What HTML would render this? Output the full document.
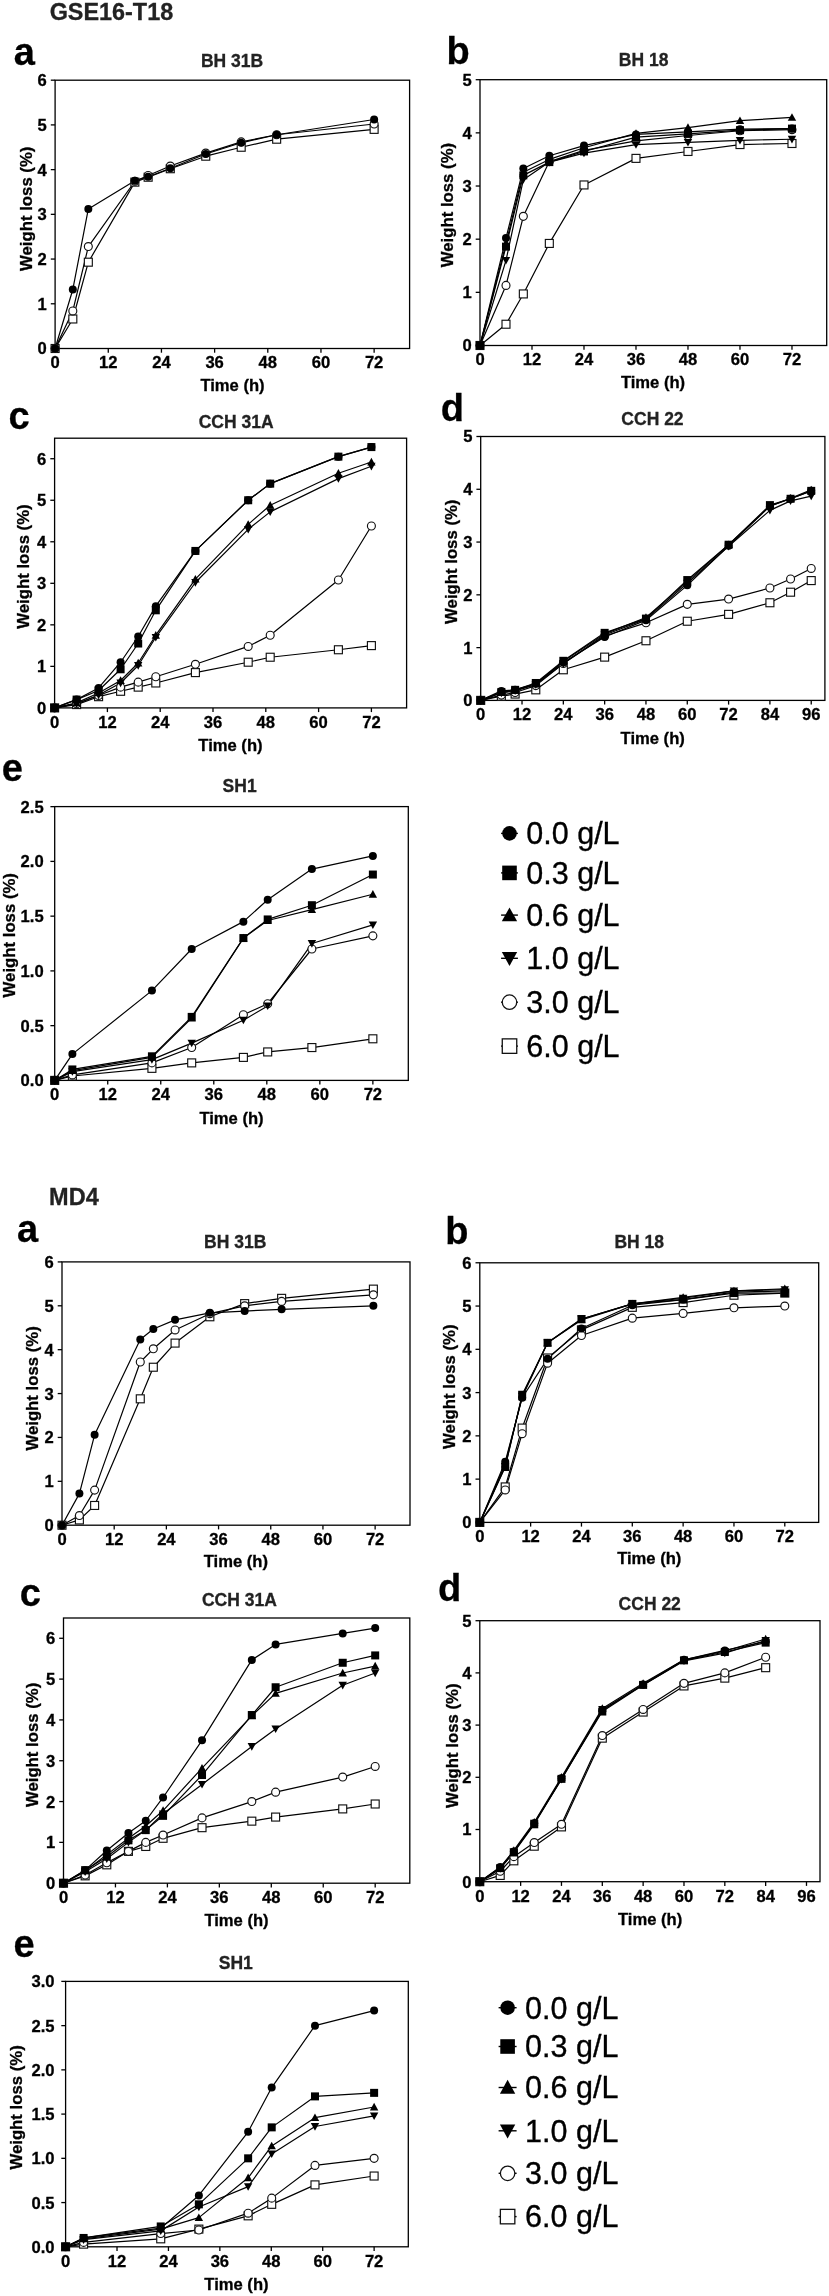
<!DOCTYPE html>
<html><head><meta charset="utf-8"><title>Figure</title>
<style>
html,body{margin:0;padding:0;background:#fff;}
body{width:829px;height:2296px;overflow:hidden;}
svg{display:block;font-family:"Liberation Sans", sans-serif;filter:blur(0.4px);}
text[font-weight=bold]{stroke:#000;stroke-width:0.3px;paint-order:stroke;}
</style></head>
<body>
<svg width="829" height="2296" viewBox="0 0 829 2296">
<rect width="829" height="2296" fill="#fff"/>
<text x="49.65" y="19.56" font-size="23.4" font-weight="bold" fill="#222" style="stroke:#222">GSE16-T18</text>
<text x="49.12" y="1205.13" font-size="23.5" font-weight="bold" fill="#222" style="stroke:#222">MD4</text>
<text x="13.71" y="65.09" font-size="38" font-weight="bold" fill="#000">a</text>
<text x="200.94" y="66.76" font-size="17.5" font-weight="bold" fill="#222" style="stroke:#222">BH 31B</text>
<rect x="55.1" y="80.2" width="354.5" height="268.3" fill="none" stroke="#000" stroke-width="1.3"/>
<line x1="50.80" y1="348.50" x2="55.10" y2="348.50" stroke="#000" stroke-width="1.3"/>
<text x="46.80" y="354.45" font-size="16.6" font-weight="bold" text-anchor="end">0</text>
<line x1="50.80" y1="303.78" x2="55.10" y2="303.78" stroke="#000" stroke-width="1.3"/>
<text x="46.80" y="309.73" font-size="16.6" font-weight="bold" text-anchor="end">1</text>
<line x1="50.80" y1="259.06" x2="55.10" y2="259.06" stroke="#000" stroke-width="1.3"/>
<text x="46.80" y="265.01" font-size="16.6" font-weight="bold" text-anchor="end">2</text>
<line x1="50.80" y1="214.34" x2="55.10" y2="214.34" stroke="#000" stroke-width="1.3"/>
<text x="46.80" y="220.29" font-size="16.6" font-weight="bold" text-anchor="end">3</text>
<line x1="50.80" y1="169.62" x2="55.10" y2="169.62" stroke="#000" stroke-width="1.3"/>
<text x="46.80" y="175.57" font-size="16.6" font-weight="bold" text-anchor="end">4</text>
<line x1="50.80" y1="124.90" x2="55.10" y2="124.90" stroke="#000" stroke-width="1.3"/>
<text x="46.80" y="130.85" font-size="16.6" font-weight="bold" text-anchor="end">5</text>
<line x1="50.80" y1="80.18" x2="55.10" y2="80.18" stroke="#000" stroke-width="1.3"/>
<text x="46.80" y="86.13" font-size="16.6" font-weight="bold" text-anchor="end">6</text>
<line x1="55.10" y1="348.50" x2="55.10" y2="352.70" stroke="#000" stroke-width="1.3"/>
<text x="55.10" y="368.40" font-size="16.6" font-weight="bold" text-anchor="middle">0</text>
<line x1="108.27" y1="348.50" x2="108.27" y2="352.70" stroke="#000" stroke-width="1.3"/>
<text x="108.27" y="368.40" font-size="16.6" font-weight="bold" text-anchor="middle">12</text>
<line x1="161.44" y1="348.50" x2="161.44" y2="352.70" stroke="#000" stroke-width="1.3"/>
<text x="161.44" y="368.40" font-size="16.6" font-weight="bold" text-anchor="middle">24</text>
<line x1="214.62" y1="348.50" x2="214.62" y2="352.70" stroke="#000" stroke-width="1.3"/>
<text x="214.62" y="368.40" font-size="16.6" font-weight="bold" text-anchor="middle">36</text>
<line x1="267.79" y1="348.50" x2="267.79" y2="352.70" stroke="#000" stroke-width="1.3"/>
<text x="267.79" y="368.40" font-size="16.6" font-weight="bold" text-anchor="middle">48</text>
<line x1="320.96" y1="348.50" x2="320.96" y2="352.70" stroke="#000" stroke-width="1.3"/>
<text x="320.96" y="368.40" font-size="16.6" font-weight="bold" text-anchor="middle">60</text>
<line x1="374.13" y1="348.50" x2="374.13" y2="352.70" stroke="#000" stroke-width="1.3"/>
<text x="374.13" y="368.40" font-size="16.6" font-weight="bold" text-anchor="middle">72</text>
<text x="232.5" y="391.3" font-size="16.6" font-weight="bold" text-anchor="middle">Time (h)</text>
<text transform="translate(31.7,208.8) rotate(-90)" x="0" y="0" font-size="16.75" font-weight="bold" text-anchor="middle">Weight loss (%)</text>
<path d="M55.10,348.50 L72.82,289.47 L88.33,208.97 L134.86,180.80 L148.15,176.78 L170.31,168.28 L205.75,153.97 L241.20,142.79 L276.65,134.74 L374.13,119.53" fill="none" stroke="#000" stroke-width="1.2" stroke-linejoin="round"/>
<path d="M55.10,348.50 L72.82,310.94 L88.33,246.54 L134.86,181.25 L148.15,175.43 L170.31,166.04 L205.75,153.07 L241.20,141.89 L276.65,134.74 L374.13,124.01" fill="none" stroke="#000" stroke-width="1.2" stroke-linejoin="round"/>
<path d="M55.10,348.50 L72.82,318.98 L88.33,262.19 L134.86,182.14 L148.15,177.22 L170.31,168.73 L205.75,156.20 L241.20,147.26 L276.65,139.21 L374.13,129.37" fill="none" stroke="#000" stroke-width="1.2" stroke-linejoin="round"/>
<rect x="51.12" y="344.51" width="7.97" height="7.97" fill="#fff" stroke="#111" stroke-width="1.15"/>
<rect x="68.84" y="315.00" width="7.97" height="7.97" fill="#fff" stroke="#111" stroke-width="1.15"/>
<rect x="84.35" y="258.21" width="7.97" height="7.97" fill="#fff" stroke="#111" stroke-width="1.15"/>
<rect x="130.87" y="178.16" width="7.97" height="7.97" fill="#fff" stroke="#111" stroke-width="1.15"/>
<rect x="144.17" y="173.24" width="7.97" height="7.97" fill="#fff" stroke="#111" stroke-width="1.15"/>
<rect x="166.32" y="164.74" width="7.97" height="7.97" fill="#fff" stroke="#111" stroke-width="1.15"/>
<rect x="201.77" y="152.22" width="7.97" height="7.97" fill="#fff" stroke="#111" stroke-width="1.15"/>
<rect x="237.22" y="143.27" width="7.97" height="7.97" fill="#fff" stroke="#111" stroke-width="1.15"/>
<rect x="272.67" y="135.23" width="7.97" height="7.97" fill="#fff" stroke="#111" stroke-width="1.15"/>
<rect x="370.15" y="125.39" width="7.97" height="7.97" fill="#fff" stroke="#111" stroke-width="1.15"/>
<circle cx="55.10" cy="348.50" r="3.98" fill="#fff" stroke="#111" stroke-width="1.15"/>
<circle cx="72.82" cy="310.94" r="3.98" fill="#fff" stroke="#111" stroke-width="1.15"/>
<circle cx="88.33" cy="246.54" r="3.98" fill="#fff" stroke="#111" stroke-width="1.15"/>
<circle cx="134.86" cy="181.25" r="3.98" fill="#fff" stroke="#111" stroke-width="1.15"/>
<circle cx="148.15" cy="175.43" r="3.98" fill="#fff" stroke="#111" stroke-width="1.15"/>
<circle cx="170.31" cy="166.04" r="3.98" fill="#fff" stroke="#111" stroke-width="1.15"/>
<circle cx="205.75" cy="153.07" r="3.98" fill="#fff" stroke="#111" stroke-width="1.15"/>
<circle cx="241.20" cy="141.89" r="3.98" fill="#fff" stroke="#111" stroke-width="1.15"/>
<circle cx="276.65" cy="134.74" r="3.98" fill="#fff" stroke="#111" stroke-width="1.15"/>
<circle cx="374.13" cy="124.01" r="3.98" fill="#fff" stroke="#111" stroke-width="1.15"/>
<circle cx="55.10" cy="348.50" r="4.00" fill="#000"/>
<circle cx="72.82" cy="289.47" r="4.00" fill="#000"/>
<circle cx="88.33" cy="208.97" r="4.00" fill="#000"/>
<circle cx="134.86" cy="180.80" r="4.00" fill="#000"/>
<circle cx="148.15" cy="176.78" r="4.00" fill="#000"/>
<circle cx="170.31" cy="168.28" r="4.00" fill="#000"/>
<circle cx="205.75" cy="153.97" r="4.00" fill="#000"/>
<circle cx="241.20" cy="142.79" r="4.00" fill="#000"/>
<circle cx="276.65" cy="134.74" r="4.00" fill="#000"/>
<circle cx="374.13" cy="119.53" r="4.00" fill="#000"/>
<text x="446.52" y="63.78" font-size="38" font-weight="bold" fill="#000">b</text>
<text x="618.78" y="66.42" font-size="17.5" font-weight="bold" fill="#222" style="stroke:#222">BH 18</text>
<rect x="480" y="79.7" width="346.70000000000005" height="265.8" fill="none" stroke="#000" stroke-width="1.3"/>
<line x1="475.70" y1="345.50" x2="480.00" y2="345.50" stroke="#000" stroke-width="1.3"/>
<text x="471.70" y="351.45" font-size="16.6" font-weight="bold" text-anchor="end">0</text>
<line x1="475.70" y1="292.34" x2="480.00" y2="292.34" stroke="#000" stroke-width="1.3"/>
<text x="471.70" y="298.29" font-size="16.6" font-weight="bold" text-anchor="end">1</text>
<line x1="475.70" y1="239.18" x2="480.00" y2="239.18" stroke="#000" stroke-width="1.3"/>
<text x="471.70" y="245.13" font-size="16.6" font-weight="bold" text-anchor="end">2</text>
<line x1="475.70" y1="186.02" x2="480.00" y2="186.02" stroke="#000" stroke-width="1.3"/>
<text x="471.70" y="191.97" font-size="16.6" font-weight="bold" text-anchor="end">3</text>
<line x1="475.70" y1="132.86" x2="480.00" y2="132.86" stroke="#000" stroke-width="1.3"/>
<text x="471.70" y="138.81" font-size="16.6" font-weight="bold" text-anchor="end">4</text>
<line x1="475.70" y1="79.70" x2="480.00" y2="79.70" stroke="#000" stroke-width="1.3"/>
<text x="471.70" y="85.65" font-size="16.6" font-weight="bold" text-anchor="end">5</text>
<line x1="480.00" y1="345.50" x2="480.00" y2="349.70" stroke="#000" stroke-width="1.3"/>
<text x="480.00" y="365.40" font-size="16.6" font-weight="bold" text-anchor="middle">0</text>
<line x1="532.00" y1="345.50" x2="532.00" y2="349.70" stroke="#000" stroke-width="1.3"/>
<text x="532.00" y="365.40" font-size="16.6" font-weight="bold" text-anchor="middle">12</text>
<line x1="583.99" y1="345.50" x2="583.99" y2="349.70" stroke="#000" stroke-width="1.3"/>
<text x="583.99" y="365.40" font-size="16.6" font-weight="bold" text-anchor="middle">24</text>
<line x1="635.99" y1="345.50" x2="635.99" y2="349.70" stroke="#000" stroke-width="1.3"/>
<text x="635.99" y="365.40" font-size="16.6" font-weight="bold" text-anchor="middle">36</text>
<line x1="687.98" y1="345.50" x2="687.98" y2="349.70" stroke="#000" stroke-width="1.3"/>
<text x="687.98" y="365.40" font-size="16.6" font-weight="bold" text-anchor="middle">48</text>
<line x1="739.98" y1="345.50" x2="739.98" y2="349.70" stroke="#000" stroke-width="1.3"/>
<text x="739.98" y="365.40" font-size="16.6" font-weight="bold" text-anchor="middle">60</text>
<line x1="791.98" y1="345.50" x2="791.98" y2="349.70" stroke="#000" stroke-width="1.3"/>
<text x="791.98" y="365.40" font-size="16.6" font-weight="bold" text-anchor="middle">72</text>
<text x="653" y="387.9" font-size="16.6" font-weight="bold" text-anchor="middle">Time (h)</text>
<text transform="translate(453,205.1) rotate(-90)" x="0" y="0" font-size="16.75" font-weight="bold" text-anchor="middle">Weight loss (%)</text>
<path d="M480.00,345.50 L506.00,238.12 L523.33,168.48 L549.33,155.72 L583.99,145.62 L635.99,134.45 L687.98,131.80 L739.98,129.14 L791.98,128.61" fill="none" stroke="#000" stroke-width="1.2" stroke-linejoin="round"/>
<path d="M480.00,345.50 L506.00,246.62 L523.33,175.39 L549.33,162.10 L583.99,151.47 L635.99,137.11 L687.98,133.92 L739.98,130.20 L791.98,128.61" fill="none" stroke="#000" stroke-width="1.2" stroke-linejoin="round"/>
<path d="M480.00,345.50 L506.00,243.43 L523.33,172.20 L549.33,159.44 L583.99,147.74 L635.99,133.39 L687.98,127.54 L739.98,120.63 L791.98,117.44" fill="none" stroke="#000" stroke-width="1.2" stroke-linejoin="round"/>
<path d="M480.00,345.50 L506.00,260.44 L523.33,179.64 L549.33,162.10 L583.99,153.06 L635.99,144.56 L687.98,142.43 L739.98,140.30 L791.98,139.24" fill="none" stroke="#000" stroke-width="1.2" stroke-linejoin="round"/>
<path d="M480.00,345.50 L506.00,285.43 L523.33,216.32 L549.33,161.57 L583.99,150.40 L635.99,140.83 L687.98,135.52 L739.98,130.73 L791.98,129.67" fill="none" stroke="#000" stroke-width="1.2" stroke-linejoin="round"/>
<path d="M480.00,345.50 L506.00,324.24 L523.33,293.93 L549.33,243.43 L583.99,184.96 L635.99,158.38 L687.98,151.47 L739.98,144.56 L791.98,143.49" fill="none" stroke="#000" stroke-width="1.2" stroke-linejoin="round"/>
<rect x="476.01" y="341.51" width="7.97" height="7.97" fill="#fff" stroke="#111" stroke-width="1.15"/>
<rect x="502.01" y="320.25" width="7.97" height="7.97" fill="#fff" stroke="#111" stroke-width="1.15"/>
<rect x="519.35" y="289.95" width="7.97" height="7.97" fill="#fff" stroke="#111" stroke-width="1.15"/>
<rect x="545.34" y="239.45" width="7.97" height="7.97" fill="#fff" stroke="#111" stroke-width="1.15"/>
<rect x="580.01" y="180.97" width="7.97" height="7.97" fill="#fff" stroke="#111" stroke-width="1.15"/>
<rect x="632.00" y="154.39" width="7.97" height="7.97" fill="#fff" stroke="#111" stroke-width="1.15"/>
<rect x="684.00" y="147.48" width="7.97" height="7.97" fill="#fff" stroke="#111" stroke-width="1.15"/>
<rect x="736.00" y="140.57" width="7.97" height="7.97" fill="#fff" stroke="#111" stroke-width="1.15"/>
<rect x="787.99" y="139.51" width="7.97" height="7.97" fill="#fff" stroke="#111" stroke-width="1.15"/>
<circle cx="480.00" cy="345.50" r="3.98" fill="#fff" stroke="#111" stroke-width="1.15"/>
<circle cx="506.00" cy="285.43" r="3.98" fill="#fff" stroke="#111" stroke-width="1.15"/>
<circle cx="523.33" cy="216.32" r="3.98" fill="#fff" stroke="#111" stroke-width="1.15"/>
<circle cx="549.33" cy="161.57" r="3.98" fill="#fff" stroke="#111" stroke-width="1.15"/>
<circle cx="583.99" cy="150.40" r="3.98" fill="#fff" stroke="#111" stroke-width="1.15"/>
<circle cx="635.99" cy="140.83" r="3.98" fill="#fff" stroke="#111" stroke-width="1.15"/>
<circle cx="687.98" cy="135.52" r="3.98" fill="#fff" stroke="#111" stroke-width="1.15"/>
<circle cx="739.98" cy="130.73" r="3.98" fill="#fff" stroke="#111" stroke-width="1.15"/>
<circle cx="791.98" cy="129.67" r="3.98" fill="#fff" stroke="#111" stroke-width="1.15"/>
<path d="M480.00,349.68 L484.20,342.08 L475.80,342.08 Z" fill="#000"/>
<path d="M506.00,264.62 L510.20,257.02 L501.80,257.02 Z" fill="#000"/>
<path d="M523.33,183.82 L527.53,176.22 L519.13,176.22 Z" fill="#000"/>
<path d="M549.33,166.28 L553.53,158.68 L545.13,158.68 Z" fill="#000"/>
<path d="M583.99,157.24 L588.19,149.64 L579.79,149.64 Z" fill="#000"/>
<path d="M635.99,148.74 L640.19,141.14 L631.79,141.14 Z" fill="#000"/>
<path d="M687.98,146.61 L692.18,139.01 L683.78,139.01 Z" fill="#000"/>
<path d="M739.98,144.48 L744.18,136.88 L735.78,136.88 Z" fill="#000"/>
<path d="M791.98,143.42 L796.18,135.82 L787.78,135.82 Z" fill="#000"/>
<path d="M480.00,341.32 L484.20,348.92 L475.80,348.92 Z" fill="#000"/>
<path d="M506.00,239.25 L510.20,246.85 L501.80,246.85 Z" fill="#000"/>
<path d="M523.33,168.02 L527.53,175.62 L519.13,175.62 Z" fill="#000"/>
<path d="M549.33,155.26 L553.53,162.86 L545.13,162.86 Z" fill="#000"/>
<path d="M583.99,143.56 L588.19,151.16 L579.79,151.16 Z" fill="#000"/>
<path d="M635.99,129.21 L640.19,136.81 L631.79,136.81 Z" fill="#000"/>
<path d="M687.98,123.36 L692.18,130.96 L683.78,130.96 Z" fill="#000"/>
<path d="M739.98,116.45 L744.18,124.05 L735.78,124.05 Z" fill="#000"/>
<path d="M791.98,113.26 L796.18,120.86 L787.78,120.86 Z" fill="#000"/>
<rect x="476.00" y="341.50" width="8.00" height="8.00" fill="#000"/>
<rect x="502.00" y="242.62" width="8.00" height="8.00" fill="#000"/>
<rect x="519.33" y="171.39" width="8.00" height="8.00" fill="#000"/>
<rect x="545.33" y="158.10" width="8.00" height="8.00" fill="#000"/>
<rect x="579.99" y="147.47" width="8.00" height="8.00" fill="#000"/>
<rect x="631.99" y="133.11" width="8.00" height="8.00" fill="#000"/>
<rect x="683.98" y="129.92" width="8.00" height="8.00" fill="#000"/>
<rect x="735.98" y="126.20" width="8.00" height="8.00" fill="#000"/>
<rect x="787.98" y="124.61" width="8.00" height="8.00" fill="#000"/>
<circle cx="480.00" cy="345.50" r="4.00" fill="#000"/>
<circle cx="506.00" cy="238.12" r="4.00" fill="#000"/>
<circle cx="523.33" cy="168.48" r="4.00" fill="#000"/>
<circle cx="549.33" cy="155.72" r="4.00" fill="#000"/>
<circle cx="583.99" cy="145.62" r="4.00" fill="#000"/>
<circle cx="635.99" cy="134.45" r="4.00" fill="#000"/>
<circle cx="687.98" cy="131.80" r="4.00" fill="#000"/>
<circle cx="739.98" cy="129.14" r="4.00" fill="#000"/>
<circle cx="791.98" cy="128.61" r="4.00" fill="#000"/>
<text x="8.60" y="428.89" font-size="38" font-weight="bold" fill="#000">c</text>
<text x="198.73" y="427.56" font-size="17.5" font-weight="bold" fill="#222" style="stroke:#222">CCH 31A</text>
<rect x="54.6" y="438.2" width="352.0" height="269.7" fill="none" stroke="#000" stroke-width="1.3"/>
<line x1="50.30" y1="707.90" x2="54.60" y2="707.90" stroke="#000" stroke-width="1.3"/>
<text x="46.30" y="713.85" font-size="16.6" font-weight="bold" text-anchor="end">0</text>
<line x1="50.30" y1="666.37" x2="54.60" y2="666.37" stroke="#000" stroke-width="1.3"/>
<text x="46.30" y="672.32" font-size="16.6" font-weight="bold" text-anchor="end">1</text>
<line x1="50.30" y1="624.84" x2="54.60" y2="624.84" stroke="#000" stroke-width="1.3"/>
<text x="46.30" y="630.79" font-size="16.6" font-weight="bold" text-anchor="end">2</text>
<line x1="50.30" y1="583.31" x2="54.60" y2="583.31" stroke="#000" stroke-width="1.3"/>
<text x="46.30" y="589.26" font-size="16.6" font-weight="bold" text-anchor="end">3</text>
<line x1="50.30" y1="541.78" x2="54.60" y2="541.78" stroke="#000" stroke-width="1.3"/>
<text x="46.30" y="547.73" font-size="16.6" font-weight="bold" text-anchor="end">4</text>
<line x1="50.30" y1="500.25" x2="54.60" y2="500.25" stroke="#000" stroke-width="1.3"/>
<text x="46.30" y="506.20" font-size="16.6" font-weight="bold" text-anchor="end">5</text>
<line x1="50.30" y1="458.72" x2="54.60" y2="458.72" stroke="#000" stroke-width="1.3"/>
<text x="46.30" y="464.67" font-size="16.6" font-weight="bold" text-anchor="end">6</text>
<line x1="54.60" y1="707.90" x2="54.60" y2="712.10" stroke="#000" stroke-width="1.3"/>
<text x="54.60" y="727.80" font-size="16.6" font-weight="bold" text-anchor="middle">0</text>
<line x1="107.40" y1="707.90" x2="107.40" y2="712.10" stroke="#000" stroke-width="1.3"/>
<text x="107.40" y="727.80" font-size="16.6" font-weight="bold" text-anchor="middle">12</text>
<line x1="160.20" y1="707.90" x2="160.20" y2="712.10" stroke="#000" stroke-width="1.3"/>
<text x="160.20" y="727.80" font-size="16.6" font-weight="bold" text-anchor="middle">24</text>
<line x1="213.00" y1="707.90" x2="213.00" y2="712.10" stroke="#000" stroke-width="1.3"/>
<text x="213.00" y="727.80" font-size="16.6" font-weight="bold" text-anchor="middle">36</text>
<line x1="265.80" y1="707.90" x2="265.80" y2="712.10" stroke="#000" stroke-width="1.3"/>
<text x="265.80" y="727.80" font-size="16.6" font-weight="bold" text-anchor="middle">48</text>
<line x1="318.60" y1="707.90" x2="318.60" y2="712.10" stroke="#000" stroke-width="1.3"/>
<text x="318.60" y="727.80" font-size="16.6" font-weight="bold" text-anchor="middle">60</text>
<line x1="371.40" y1="707.90" x2="371.40" y2="712.10" stroke="#000" stroke-width="1.3"/>
<text x="371.40" y="727.80" font-size="16.6" font-weight="bold" text-anchor="middle">72</text>
<text x="230.45" y="751.1" font-size="16.6" font-weight="bold" text-anchor="middle">Time (h)</text>
<text transform="translate(28.7,566.55) rotate(-90)" x="0" y="0" font-size="16.75" font-weight="bold" text-anchor="middle">Weight loss (%)</text>
<path d="M54.60,707.90 L76.60,699.59 L98.60,687.97 L120.60,662.22 L138.20,636.47 L155.80,606.15 L195.40,550.92 L248.20,500.25 L270.20,483.64 L338.40,456.64 L371.40,447.09" fill="none" stroke="#000" stroke-width="1.2" stroke-linejoin="round"/>
<path d="M54.60,707.90 L76.60,699.59 L98.60,690.46 L120.60,669.28 L138.20,643.53 L155.80,610.30 L195.40,550.92 L248.20,500.25 L270.20,483.64 L338.40,456.64 L371.40,447.09" fill="none" stroke="#000" stroke-width="1.2" stroke-linejoin="round"/>
<path d="M54.60,707.90 L76.60,702.92 L98.60,692.95 L120.60,680.49 L138.20,663.05 L155.80,635.22 L195.40,579.16 L248.20,524.34 L270.20,505.23 L338.40,473.26 L371.40,462.04" fill="none" stroke="#000" stroke-width="1.2" stroke-linejoin="round"/>
<path d="M54.60,707.90 L76.60,703.75 L98.60,695.03 L120.60,682.98 L138.20,665.54 L155.80,637.30 L195.40,582.48 L248.20,529.32 L270.20,511.88 L338.40,478.65 L371.40,466.20" fill="none" stroke="#000" stroke-width="1.2" stroke-linejoin="round"/>
<path d="M54.60,707.90 L76.60,703.75 L98.60,695.44 L120.60,687.13 L138.20,682.15 L155.80,676.75 L195.40,664.29 L248.20,646.44 L270.20,635.22 L338.40,579.99 L371.40,526.00" fill="none" stroke="#000" stroke-width="1.2" stroke-linejoin="round"/>
<path d="M54.60,707.90 L76.60,704.58 L98.60,696.69 L120.60,691.29 L138.20,687.13 L155.80,682.98 L195.40,672.60 L248.20,662.22 L270.20,657.23 L338.40,649.76 L371.40,645.61" fill="none" stroke="#000" stroke-width="1.2" stroke-linejoin="round"/>
<rect x="50.62" y="703.91" width="7.97" height="7.97" fill="#fff" stroke="#111" stroke-width="1.15"/>
<rect x="72.61" y="700.59" width="7.97" height="7.97" fill="#fff" stroke="#111" stroke-width="1.15"/>
<rect x="94.61" y="692.70" width="7.97" height="7.97" fill="#fff" stroke="#111" stroke-width="1.15"/>
<rect x="116.61" y="687.30" width="7.97" height="7.97" fill="#fff" stroke="#111" stroke-width="1.15"/>
<rect x="134.22" y="683.15" width="7.97" height="7.97" fill="#fff" stroke="#111" stroke-width="1.15"/>
<rect x="151.81" y="679.00" width="7.97" height="7.97" fill="#fff" stroke="#111" stroke-width="1.15"/>
<rect x="191.42" y="668.61" width="7.97" height="7.97" fill="#fff" stroke="#111" stroke-width="1.15"/>
<rect x="244.22" y="658.23" width="7.97" height="7.97" fill="#fff" stroke="#111" stroke-width="1.15"/>
<rect x="266.22" y="653.25" width="7.97" height="7.97" fill="#fff" stroke="#111" stroke-width="1.15"/>
<rect x="334.42" y="645.77" width="7.97" height="7.97" fill="#fff" stroke="#111" stroke-width="1.15"/>
<rect x="367.42" y="641.62" width="7.97" height="7.97" fill="#fff" stroke="#111" stroke-width="1.15"/>
<circle cx="54.60" cy="707.90" r="3.98" fill="#fff" stroke="#111" stroke-width="1.15"/>
<circle cx="76.60" cy="703.75" r="3.98" fill="#fff" stroke="#111" stroke-width="1.15"/>
<circle cx="98.60" cy="695.44" r="3.98" fill="#fff" stroke="#111" stroke-width="1.15"/>
<circle cx="120.60" cy="687.13" r="3.98" fill="#fff" stroke="#111" stroke-width="1.15"/>
<circle cx="138.20" cy="682.15" r="3.98" fill="#fff" stroke="#111" stroke-width="1.15"/>
<circle cx="155.80" cy="676.75" r="3.98" fill="#fff" stroke="#111" stroke-width="1.15"/>
<circle cx="195.40" cy="664.29" r="3.98" fill="#fff" stroke="#111" stroke-width="1.15"/>
<circle cx="248.20" cy="646.44" r="3.98" fill="#fff" stroke="#111" stroke-width="1.15"/>
<circle cx="270.20" cy="635.22" r="3.98" fill="#fff" stroke="#111" stroke-width="1.15"/>
<circle cx="338.40" cy="579.99" r="3.98" fill="#fff" stroke="#111" stroke-width="1.15"/>
<circle cx="371.40" cy="526.00" r="3.98" fill="#fff" stroke="#111" stroke-width="1.15"/>
<path d="M54.60,712.08 L58.80,704.48 L50.40,704.48 Z" fill="#000"/>
<path d="M76.60,707.93 L80.80,700.33 L72.40,700.33 Z" fill="#000"/>
<path d="M98.60,699.21 L102.80,691.61 L94.40,691.61 Z" fill="#000"/>
<path d="M120.60,687.16 L124.80,679.56 L116.40,679.56 Z" fill="#000"/>
<path d="M138.20,669.72 L142.40,662.12 L134.00,662.12 Z" fill="#000"/>
<path d="M155.80,641.48 L160.00,633.88 L151.60,633.88 Z" fill="#000"/>
<path d="M195.40,586.66 L199.60,579.06 L191.20,579.06 Z" fill="#000"/>
<path d="M248.20,533.50 L252.40,525.90 L244.00,525.90 Z" fill="#000"/>
<path d="M270.20,516.06 L274.40,508.46 L266.00,508.46 Z" fill="#000"/>
<path d="M338.40,482.83 L342.60,475.23 L334.20,475.23 Z" fill="#000"/>
<path d="M371.40,470.38 L375.60,462.78 L367.20,462.78 Z" fill="#000"/>
<path d="M54.60,703.72 L58.80,711.32 L50.40,711.32 Z" fill="#000"/>
<path d="M76.60,698.74 L80.80,706.34 L72.40,706.34 Z" fill="#000"/>
<path d="M98.60,688.77 L102.80,696.37 L94.40,696.37 Z" fill="#000"/>
<path d="M120.60,676.31 L124.80,683.91 L116.40,683.91 Z" fill="#000"/>
<path d="M138.20,658.87 L142.40,666.47 L134.00,666.47 Z" fill="#000"/>
<path d="M155.80,631.04 L160.00,638.64 L151.60,638.64 Z" fill="#000"/>
<path d="M195.40,574.98 L199.60,582.58 L191.20,582.58 Z" fill="#000"/>
<path d="M248.20,520.16 L252.40,527.76 L244.00,527.76 Z" fill="#000"/>
<path d="M270.20,501.05 L274.40,508.65 L266.00,508.65 Z" fill="#000"/>
<path d="M338.40,469.08 L342.60,476.68 L334.20,476.68 Z" fill="#000"/>
<path d="M371.40,457.86 L375.60,465.46 L367.20,465.46 Z" fill="#000"/>
<rect x="50.60" y="703.90" width="8.00" height="8.00" fill="#000"/>
<rect x="72.60" y="695.59" width="8.00" height="8.00" fill="#000"/>
<rect x="94.60" y="686.46" width="8.00" height="8.00" fill="#000"/>
<rect x="116.60" y="665.28" width="8.00" height="8.00" fill="#000"/>
<rect x="134.20" y="639.53" width="8.00" height="8.00" fill="#000"/>
<rect x="151.80" y="606.30" width="8.00" height="8.00" fill="#000"/>
<rect x="191.40" y="546.92" width="8.00" height="8.00" fill="#000"/>
<rect x="244.20" y="496.25" width="8.00" height="8.00" fill="#000"/>
<rect x="266.20" y="479.64" width="8.00" height="8.00" fill="#000"/>
<rect x="334.40" y="452.64" width="8.00" height="8.00" fill="#000"/>
<rect x="367.40" y="443.09" width="8.00" height="8.00" fill="#000"/>
<circle cx="54.60" cy="707.90" r="4.00" fill="#000"/>
<circle cx="76.60" cy="699.59" r="4.00" fill="#000"/>
<circle cx="98.60" cy="687.97" r="4.00" fill="#000"/>
<circle cx="120.60" cy="662.22" r="4.00" fill="#000"/>
<circle cx="138.20" cy="636.47" r="4.00" fill="#000"/>
<circle cx="155.80" cy="606.15" r="4.00" fill="#000"/>
<circle cx="195.40" cy="550.92" r="4.00" fill="#000"/>
<circle cx="248.20" cy="500.25" r="4.00" fill="#000"/>
<circle cx="270.20" cy="483.64" r="4.00" fill="#000"/>
<circle cx="338.40" cy="456.64" r="4.00" fill="#000"/>
<circle cx="371.40" cy="447.09" r="4.00" fill="#000"/>
<text x="440.82" y="420.98" font-size="38" font-weight="bold" fill="#000">d</text>
<text x="621.37" y="425.22" font-size="17.5" font-weight="bold" fill="#222" style="stroke:#222">CCH 22</text>
<rect x="480.7" y="436.5" width="344.2" height="263.9" fill="none" stroke="#000" stroke-width="1.3"/>
<line x1="476.40" y1="700.40" x2="480.70" y2="700.40" stroke="#000" stroke-width="1.3"/>
<text x="472.40" y="706.35" font-size="16.6" font-weight="bold" text-anchor="end">0</text>
<line x1="476.40" y1="647.62" x2="480.70" y2="647.62" stroke="#000" stroke-width="1.3"/>
<text x="472.40" y="653.57" font-size="16.6" font-weight="bold" text-anchor="end">1</text>
<line x1="476.40" y1="594.84" x2="480.70" y2="594.84" stroke="#000" stroke-width="1.3"/>
<text x="472.40" y="600.79" font-size="16.6" font-weight="bold" text-anchor="end">2</text>
<line x1="476.40" y1="542.06" x2="480.70" y2="542.06" stroke="#000" stroke-width="1.3"/>
<text x="472.40" y="548.01" font-size="16.6" font-weight="bold" text-anchor="end">3</text>
<line x1="476.40" y1="489.28" x2="480.70" y2="489.28" stroke="#000" stroke-width="1.3"/>
<text x="472.40" y="495.23" font-size="16.6" font-weight="bold" text-anchor="end">4</text>
<line x1="476.40" y1="436.50" x2="480.70" y2="436.50" stroke="#000" stroke-width="1.3"/>
<text x="472.40" y="442.45" font-size="16.6" font-weight="bold" text-anchor="end">5</text>
<line x1="480.70" y1="700.40" x2="480.70" y2="704.60" stroke="#000" stroke-width="1.3"/>
<text x="480.70" y="720.30" font-size="16.6" font-weight="bold" text-anchor="middle">0</text>
<line x1="522.02" y1="700.40" x2="522.02" y2="704.60" stroke="#000" stroke-width="1.3"/>
<text x="522.02" y="720.30" font-size="16.6" font-weight="bold" text-anchor="middle">12</text>
<line x1="563.33" y1="700.40" x2="563.33" y2="704.60" stroke="#000" stroke-width="1.3"/>
<text x="563.33" y="720.30" font-size="16.6" font-weight="bold" text-anchor="middle">24</text>
<line x1="604.65" y1="700.40" x2="604.65" y2="704.60" stroke="#000" stroke-width="1.3"/>
<text x="604.65" y="720.30" font-size="16.6" font-weight="bold" text-anchor="middle">36</text>
<line x1="645.96" y1="700.40" x2="645.96" y2="704.60" stroke="#000" stroke-width="1.3"/>
<text x="645.96" y="720.30" font-size="16.6" font-weight="bold" text-anchor="middle">48</text>
<line x1="687.28" y1="700.40" x2="687.28" y2="704.60" stroke="#000" stroke-width="1.3"/>
<text x="687.28" y="720.30" font-size="16.6" font-weight="bold" text-anchor="middle">60</text>
<line x1="728.60" y1="700.40" x2="728.60" y2="704.60" stroke="#000" stroke-width="1.3"/>
<text x="728.60" y="720.30" font-size="16.6" font-weight="bold" text-anchor="middle">72</text>
<line x1="769.91" y1="700.40" x2="769.91" y2="704.60" stroke="#000" stroke-width="1.3"/>
<text x="769.91" y="720.30" font-size="16.6" font-weight="bold" text-anchor="middle">84</text>
<line x1="811.23" y1="700.40" x2="811.23" y2="704.60" stroke="#000" stroke-width="1.3"/>
<text x="811.23" y="720.30" font-size="16.6" font-weight="bold" text-anchor="middle">96</text>
<text x="652.7" y="743.7" font-size="16.6" font-weight="bold" text-anchor="middle">Time (h)</text>
<text transform="translate(456.9,561.75) rotate(-90)" x="0" y="0" font-size="16.75" font-weight="bold" text-anchor="middle">Weight loss (%)</text>
<path d="M480.70,700.40 L501.36,690.90 L515.13,689.84 L535.79,683.51 L563.33,662.40 L604.65,637.06 L645.96,620.17 L687.28,585.34 L728.60,545.75 L769.91,506.17 L790.57,498.78 L811.23,490.86" fill="none" stroke="#000" stroke-width="1.2" stroke-linejoin="round"/>
<path d="M480.70,700.40 L501.36,691.96 L515.13,689.84 L535.79,682.98 L563.33,660.81 L604.65,632.84 L645.96,618.59 L687.28,580.06 L728.60,544.70 L769.91,505.11 L790.57,498.78 L811.23,490.86" fill="none" stroke="#000" stroke-width="1.2" stroke-linejoin="round"/>
<path d="M480.70,700.40 L501.36,692.48 L515.13,690.37 L535.79,684.04 L563.33,661.34 L604.65,633.90 L645.96,617.54 L687.28,581.64 L728.60,544.70 L769.91,506.17 L790.57,498.25 L811.23,489.81" fill="none" stroke="#000" stroke-width="1.2" stroke-linejoin="round"/>
<path d="M480.70,700.40 L501.36,693.01 L515.13,690.90 L535.79,684.57 L563.33,663.45 L604.65,634.95 L645.96,619.12 L687.28,583.23 L728.60,546.28 L769.91,510.39 L790.57,500.89 L811.23,496.14" fill="none" stroke="#000" stroke-width="1.2" stroke-linejoin="round"/>
<path d="M480.70,700.40 L501.36,695.12 L515.13,692.48 L535.79,685.62 L563.33,663.45 L604.65,636.01 L645.96,622.81 L687.28,604.34 L728.60,599.06 L769.91,587.98 L790.57,579.01 L811.23,568.45" fill="none" stroke="#000" stroke-width="1.2" stroke-linejoin="round"/>
<path d="M480.70,700.40 L501.36,696.18 L515.13,694.07 L535.79,689.84 L563.33,669.79 L604.65,657.12 L645.96,640.76 L687.28,621.23 L728.60,614.37 L769.91,602.76 L790.57,592.20 L811.23,580.59" fill="none" stroke="#000" stroke-width="1.2" stroke-linejoin="round"/>
<rect x="476.71" y="696.41" width="7.97" height="7.97" fill="#fff" stroke="#111" stroke-width="1.15"/>
<rect x="497.37" y="692.19" width="7.97" height="7.97" fill="#fff" stroke="#111" stroke-width="1.15"/>
<rect x="511.14" y="690.08" width="7.97" height="7.97" fill="#fff" stroke="#111" stroke-width="1.15"/>
<rect x="531.80" y="685.86" width="7.97" height="7.97" fill="#fff" stroke="#111" stroke-width="1.15"/>
<rect x="559.35" y="665.80" width="7.97" height="7.97" fill="#fff" stroke="#111" stroke-width="1.15"/>
<rect x="600.66" y="653.14" width="7.97" height="7.97" fill="#fff" stroke="#111" stroke-width="1.15"/>
<rect x="641.98" y="636.77" width="7.97" height="7.97" fill="#fff" stroke="#111" stroke-width="1.15"/>
<rect x="683.29" y="617.25" width="7.97" height="7.97" fill="#fff" stroke="#111" stroke-width="1.15"/>
<rect x="724.61" y="610.38" width="7.97" height="7.97" fill="#fff" stroke="#111" stroke-width="1.15"/>
<rect x="765.93" y="598.77" width="7.97" height="7.97" fill="#fff" stroke="#111" stroke-width="1.15"/>
<rect x="786.58" y="588.22" width="7.97" height="7.97" fill="#fff" stroke="#111" stroke-width="1.15"/>
<rect x="807.24" y="576.60" width="7.97" height="7.97" fill="#fff" stroke="#111" stroke-width="1.15"/>
<circle cx="480.70" cy="700.40" r="3.98" fill="#fff" stroke="#111" stroke-width="1.15"/>
<circle cx="501.36" cy="695.12" r="3.98" fill="#fff" stroke="#111" stroke-width="1.15"/>
<circle cx="515.13" cy="692.48" r="3.98" fill="#fff" stroke="#111" stroke-width="1.15"/>
<circle cx="535.79" cy="685.62" r="3.98" fill="#fff" stroke="#111" stroke-width="1.15"/>
<circle cx="563.33" cy="663.45" r="3.98" fill="#fff" stroke="#111" stroke-width="1.15"/>
<circle cx="604.65" cy="636.01" r="3.98" fill="#fff" stroke="#111" stroke-width="1.15"/>
<circle cx="645.96" cy="622.81" r="3.98" fill="#fff" stroke="#111" stroke-width="1.15"/>
<circle cx="687.28" cy="604.34" r="3.98" fill="#fff" stroke="#111" stroke-width="1.15"/>
<circle cx="728.60" cy="599.06" r="3.98" fill="#fff" stroke="#111" stroke-width="1.15"/>
<circle cx="769.91" cy="587.98" r="3.98" fill="#fff" stroke="#111" stroke-width="1.15"/>
<circle cx="790.57" cy="579.01" r="3.98" fill="#fff" stroke="#111" stroke-width="1.15"/>
<circle cx="811.23" cy="568.45" r="3.98" fill="#fff" stroke="#111" stroke-width="1.15"/>
<path d="M480.70,704.58 L484.90,696.98 L476.50,696.98 Z" fill="#000"/>
<path d="M501.36,697.19 L505.56,689.59 L497.16,689.59 Z" fill="#000"/>
<path d="M515.13,695.08 L519.33,687.48 L510.93,687.48 Z" fill="#000"/>
<path d="M535.79,688.75 L539.99,681.15 L531.59,681.15 Z" fill="#000"/>
<path d="M563.33,667.63 L567.53,660.03 L559.13,660.03 Z" fill="#000"/>
<path d="M604.65,639.13 L608.85,631.53 L600.45,631.53 Z" fill="#000"/>
<path d="M645.96,623.30 L650.16,615.70 L641.76,615.70 Z" fill="#000"/>
<path d="M687.28,587.41 L691.48,579.81 L683.08,579.81 Z" fill="#000"/>
<path d="M728.60,550.46 L732.80,542.86 L724.40,542.86 Z" fill="#000"/>
<path d="M769.91,514.57 L774.11,506.97 L765.71,506.97 Z" fill="#000"/>
<path d="M790.57,505.07 L794.77,497.47 L786.37,497.47 Z" fill="#000"/>
<path d="M811.23,500.32 L815.43,492.72 L807.03,492.72 Z" fill="#000"/>
<path d="M480.70,696.22 L484.90,703.82 L476.50,703.82 Z" fill="#000"/>
<path d="M501.36,688.30 L505.56,695.90 L497.16,695.90 Z" fill="#000"/>
<path d="M515.13,686.19 L519.33,693.79 L510.93,693.79 Z" fill="#000"/>
<path d="M535.79,679.86 L539.99,687.46 L531.59,687.46 Z" fill="#000"/>
<path d="M563.33,657.16 L567.53,664.76 L559.13,664.76 Z" fill="#000"/>
<path d="M604.65,629.72 L608.85,637.32 L600.45,637.32 Z" fill="#000"/>
<path d="M645.96,613.36 L650.16,620.96 L641.76,620.96 Z" fill="#000"/>
<path d="M687.28,577.47 L691.48,585.06 L683.08,585.06 Z" fill="#000"/>
<path d="M728.60,540.52 L732.80,548.12 L724.40,548.12 Z" fill="#000"/>
<path d="M769.91,501.99 L774.11,509.59 L765.71,509.59 Z" fill="#000"/>
<path d="M790.57,494.07 L794.77,501.67 L786.37,501.67 Z" fill="#000"/>
<path d="M811.23,485.63 L815.43,493.23 L807.03,493.23 Z" fill="#000"/>
<rect x="476.70" y="696.40" width="8.00" height="8.00" fill="#000"/>
<rect x="497.36" y="687.96" width="8.00" height="8.00" fill="#000"/>
<rect x="511.13" y="685.84" width="8.00" height="8.00" fill="#000"/>
<rect x="531.79" y="678.98" width="8.00" height="8.00" fill="#000"/>
<rect x="559.33" y="656.81" width="8.00" height="8.00" fill="#000"/>
<rect x="600.65" y="628.84" width="8.00" height="8.00" fill="#000"/>
<rect x="641.96" y="614.59" width="8.00" height="8.00" fill="#000"/>
<rect x="683.28" y="576.06" width="8.00" height="8.00" fill="#000"/>
<rect x="724.60" y="540.70" width="8.00" height="8.00" fill="#000"/>
<rect x="765.91" y="501.11" width="8.00" height="8.00" fill="#000"/>
<rect x="786.57" y="494.78" width="8.00" height="8.00" fill="#000"/>
<rect x="807.23" y="486.86" width="8.00" height="8.00" fill="#000"/>
<circle cx="480.70" cy="700.40" r="4.00" fill="#000"/>
<circle cx="501.36" cy="690.90" r="4.00" fill="#000"/>
<circle cx="515.13" cy="689.84" r="4.00" fill="#000"/>
<circle cx="535.79" cy="683.51" r="4.00" fill="#000"/>
<circle cx="563.33" cy="662.40" r="4.00" fill="#000"/>
<circle cx="604.65" cy="637.06" r="4.00" fill="#000"/>
<circle cx="645.96" cy="620.17" r="4.00" fill="#000"/>
<circle cx="687.28" cy="585.34" r="4.00" fill="#000"/>
<circle cx="728.60" cy="545.75" r="4.00" fill="#000"/>
<circle cx="769.91" cy="506.17" r="4.00" fill="#000"/>
<circle cx="790.57" cy="498.78" r="4.00" fill="#000"/>
<circle cx="811.23" cy="490.86" r="4.00" fill="#000"/>
<text x="1.84" y="780.79" font-size="38" font-weight="bold" fill="#000">e</text>
<text x="222.62" y="791.97" font-size="17.5" font-weight="bold" fill="#222" style="stroke:#222">SH1</text>
<rect x="54.7" y="806.6" width="353.6" height="273.80000000000007" fill="none" stroke="#000" stroke-width="1.3"/>
<line x1="50.40" y1="1080.40" x2="54.70" y2="1080.40" stroke="#000" stroke-width="1.3"/>
<text x="43.70" y="1086.35" font-size="16.6" font-weight="bold" text-anchor="end">0.0</text>
<line x1="50.40" y1="1025.65" x2="54.70" y2="1025.65" stroke="#000" stroke-width="1.3"/>
<text x="43.70" y="1031.60" font-size="16.6" font-weight="bold" text-anchor="end">0.5</text>
<line x1="50.40" y1="970.90" x2="54.70" y2="970.90" stroke="#000" stroke-width="1.3"/>
<text x="43.70" y="976.85" font-size="16.6" font-weight="bold" text-anchor="end">1.0</text>
<line x1="50.40" y1="916.15" x2="54.70" y2="916.15" stroke="#000" stroke-width="1.3"/>
<text x="43.70" y="922.10" font-size="16.6" font-weight="bold" text-anchor="end">1.5</text>
<line x1="50.40" y1="861.40" x2="54.70" y2="861.40" stroke="#000" stroke-width="1.3"/>
<text x="43.70" y="867.35" font-size="16.6" font-weight="bold" text-anchor="end">2.0</text>
<line x1="50.40" y1="806.65" x2="54.70" y2="806.65" stroke="#000" stroke-width="1.3"/>
<text x="43.70" y="812.60" font-size="16.6" font-weight="bold" text-anchor="end">2.5</text>
<line x1="54.70" y1="1080.40" x2="54.70" y2="1084.60" stroke="#000" stroke-width="1.3"/>
<text x="54.70" y="1100.30" font-size="16.6" font-weight="bold" text-anchor="middle">0</text>
<line x1="107.73" y1="1080.40" x2="107.73" y2="1084.60" stroke="#000" stroke-width="1.3"/>
<text x="107.73" y="1100.30" font-size="16.6" font-weight="bold" text-anchor="middle">12</text>
<line x1="160.76" y1="1080.40" x2="160.76" y2="1084.60" stroke="#000" stroke-width="1.3"/>
<text x="160.76" y="1100.30" font-size="16.6" font-weight="bold" text-anchor="middle">24</text>
<line x1="213.78" y1="1080.40" x2="213.78" y2="1084.60" stroke="#000" stroke-width="1.3"/>
<text x="213.78" y="1100.30" font-size="16.6" font-weight="bold" text-anchor="middle">36</text>
<line x1="266.81" y1="1080.40" x2="266.81" y2="1084.60" stroke="#000" stroke-width="1.3"/>
<text x="266.81" y="1100.30" font-size="16.6" font-weight="bold" text-anchor="middle">48</text>
<line x1="319.84" y1="1080.40" x2="319.84" y2="1084.60" stroke="#000" stroke-width="1.3"/>
<text x="319.84" y="1100.30" font-size="16.6" font-weight="bold" text-anchor="middle">60</text>
<line x1="372.87" y1="1080.40" x2="372.87" y2="1084.60" stroke="#000" stroke-width="1.3"/>
<text x="372.87" y="1100.30" font-size="16.6" font-weight="bold" text-anchor="middle">72</text>
<text x="231.55" y="1124.0" font-size="16.6" font-weight="bold" text-anchor="middle">Time (h)</text>
<text transform="translate(14.7,935.25) rotate(-90)" x="0" y="0" font-size="16.75" font-weight="bold" text-anchor="middle">Weight loss (%)</text>
<path d="M54.70,1080.40 L72.38,1054.12 L151.92,990.61 L191.69,949.00 L243.39,921.63 L267.70,899.73 L311.89,869.07 L372.87,855.93" fill="none" stroke="#000" stroke-width="1.2" stroke-linejoin="round"/>
<path d="M54.70,1080.40 L72.38,1069.45 L151.92,1056.31 L191.69,1016.89 L243.39,938.05 L267.70,919.44 L311.89,905.20 L372.87,874.54" fill="none" stroke="#000" stroke-width="1.2" stroke-linejoin="round"/>
<path d="M54.70,1080.40 L72.38,1070.55 L151.92,1057.41 L191.69,1017.99 L243.39,938.05 L267.70,920.53 L311.89,909.58 L372.87,894.25" fill="none" stroke="#000" stroke-width="1.2" stroke-linejoin="round"/>
<path d="M54.70,1080.40 L72.38,1071.64 L151.92,1059.60 L191.69,1043.17 L243.39,1020.18 L267.70,1005.94 L311.89,943.53 L372.87,924.91" fill="none" stroke="#000" stroke-width="1.2" stroke-linejoin="round"/>
<path d="M54.70,1080.40 L72.38,1074.93 L151.92,1062.88 L191.69,1047.55 L243.39,1014.70 L267.70,1003.75 L311.89,949.00 L372.87,935.86" fill="none" stroke="#000" stroke-width="1.2" stroke-linejoin="round"/>
<path d="M54.70,1080.40 L72.38,1076.02 L151.92,1068.36 L191.69,1062.88 L243.39,1057.41 L267.70,1051.93 L311.89,1047.55 L372.87,1038.79" fill="none" stroke="#000" stroke-width="1.2" stroke-linejoin="round"/>
<rect x="50.72" y="1076.42" width="7.97" height="7.97" fill="#fff" stroke="#111" stroke-width="1.15"/>
<rect x="68.39" y="1072.04" width="7.97" height="7.97" fill="#fff" stroke="#111" stroke-width="1.15"/>
<rect x="147.93" y="1064.37" width="7.97" height="7.97" fill="#fff" stroke="#111" stroke-width="1.15"/>
<rect x="187.70" y="1058.90" width="7.97" height="7.97" fill="#fff" stroke="#111" stroke-width="1.15"/>
<rect x="239.41" y="1053.42" width="7.97" height="7.97" fill="#fff" stroke="#111" stroke-width="1.15"/>
<rect x="263.71" y="1047.95" width="7.97" height="7.97" fill="#fff" stroke="#111" stroke-width="1.15"/>
<rect x="307.90" y="1043.57" width="7.97" height="7.97" fill="#fff" stroke="#111" stroke-width="1.15"/>
<rect x="368.88" y="1034.81" width="7.97" height="7.97" fill="#fff" stroke="#111" stroke-width="1.15"/>
<circle cx="54.70" cy="1080.40" r="3.98" fill="#fff" stroke="#111" stroke-width="1.15"/>
<circle cx="72.38" cy="1074.93" r="3.98" fill="#fff" stroke="#111" stroke-width="1.15"/>
<circle cx="151.92" cy="1062.88" r="3.98" fill="#fff" stroke="#111" stroke-width="1.15"/>
<circle cx="191.69" cy="1047.55" r="3.98" fill="#fff" stroke="#111" stroke-width="1.15"/>
<circle cx="243.39" cy="1014.70" r="3.98" fill="#fff" stroke="#111" stroke-width="1.15"/>
<circle cx="267.70" cy="1003.75" r="3.98" fill="#fff" stroke="#111" stroke-width="1.15"/>
<circle cx="311.89" cy="949.00" r="3.98" fill="#fff" stroke="#111" stroke-width="1.15"/>
<circle cx="372.87" cy="935.86" r="3.98" fill="#fff" stroke="#111" stroke-width="1.15"/>
<path d="M54.70,1084.58 L58.90,1076.98 L50.50,1076.98 Z" fill="#000"/>
<path d="M72.38,1075.82 L76.58,1068.22 L68.18,1068.22 Z" fill="#000"/>
<path d="M151.92,1063.78 L156.12,1056.17 L147.72,1056.17 Z" fill="#000"/>
<path d="M191.69,1047.35 L195.89,1039.75 L187.49,1039.75 Z" fill="#000"/>
<path d="M243.39,1024.36 L247.59,1016.76 L239.19,1016.76 Z" fill="#000"/>
<path d="M267.70,1010.12 L271.90,1002.52 L263.50,1002.52 Z" fill="#000"/>
<path d="M311.89,947.71 L316.09,940.11 L307.69,940.11 Z" fill="#000"/>
<path d="M372.87,929.09 L377.07,921.49 L368.67,921.49 Z" fill="#000"/>
<path d="M54.70,1076.22 L58.90,1083.82 L50.50,1083.82 Z" fill="#000"/>
<path d="M72.38,1066.37 L76.58,1073.97 L68.18,1073.97 Z" fill="#000"/>
<path d="M151.92,1053.23 L156.12,1060.83 L147.72,1060.83 Z" fill="#000"/>
<path d="M191.69,1013.81 L195.89,1021.41 L187.49,1021.41 Z" fill="#000"/>
<path d="M243.39,933.87 L247.59,941.47 L239.19,941.47 Z" fill="#000"/>
<path d="M267.70,916.35 L271.90,923.95 L263.50,923.95 Z" fill="#000"/>
<path d="M311.89,905.40 L316.09,913.00 L307.69,913.00 Z" fill="#000"/>
<path d="M372.87,890.07 L377.07,897.67 L368.67,897.67 Z" fill="#000"/>
<rect x="50.70" y="1076.40" width="8.00" height="8.00" fill="#000"/>
<rect x="68.38" y="1065.45" width="8.00" height="8.00" fill="#000"/>
<rect x="147.92" y="1052.31" width="8.00" height="8.00" fill="#000"/>
<rect x="187.69" y="1012.89" width="8.00" height="8.00" fill="#000"/>
<rect x="239.39" y="934.05" width="8.00" height="8.00" fill="#000"/>
<rect x="263.70" y="915.44" width="8.00" height="8.00" fill="#000"/>
<rect x="307.89" y="901.20" width="8.00" height="8.00" fill="#000"/>
<rect x="368.87" y="870.54" width="8.00" height="8.00" fill="#000"/>
<circle cx="54.70" cy="1080.40" r="4.00" fill="#000"/>
<circle cx="72.38" cy="1054.12" r="4.00" fill="#000"/>
<circle cx="151.92" cy="990.61" r="4.00" fill="#000"/>
<circle cx="191.69" cy="949.00" r="4.00" fill="#000"/>
<circle cx="243.39" cy="921.63" r="4.00" fill="#000"/>
<circle cx="267.70" cy="899.73" r="4.00" fill="#000"/>
<circle cx="311.89" cy="869.07" r="4.00" fill="#000"/>
<circle cx="372.87" cy="855.93" r="4.00" fill="#000"/>
<text x="17.01" y="1241.89" font-size="38" font-weight="bold" fill="#000">a</text>
<text x="204.04" y="1248.46" font-size="17.5" font-weight="bold" fill="#222" style="stroke:#222">BH 31B</text>
<rect x="62" y="1261.9" width="348" height="263.29999999999995" fill="none" stroke="#000" stroke-width="1.3"/>
<line x1="57.70" y1="1525.20" x2="62.00" y2="1525.20" stroke="#000" stroke-width="1.3"/>
<text x="53.70" y="1531.15" font-size="16.6" font-weight="bold" text-anchor="end">0</text>
<line x1="57.70" y1="1481.32" x2="62.00" y2="1481.32" stroke="#000" stroke-width="1.3"/>
<text x="53.70" y="1487.27" font-size="16.6" font-weight="bold" text-anchor="end">1</text>
<line x1="57.70" y1="1437.44" x2="62.00" y2="1437.44" stroke="#000" stroke-width="1.3"/>
<text x="53.70" y="1443.39" font-size="16.6" font-weight="bold" text-anchor="end">2</text>
<line x1="57.70" y1="1393.56" x2="62.00" y2="1393.56" stroke="#000" stroke-width="1.3"/>
<text x="53.70" y="1399.51" font-size="16.6" font-weight="bold" text-anchor="end">3</text>
<line x1="57.70" y1="1349.68" x2="62.00" y2="1349.68" stroke="#000" stroke-width="1.3"/>
<text x="53.70" y="1355.63" font-size="16.6" font-weight="bold" text-anchor="end">4</text>
<line x1="57.70" y1="1305.80" x2="62.00" y2="1305.80" stroke="#000" stroke-width="1.3"/>
<text x="53.70" y="1311.75" font-size="16.6" font-weight="bold" text-anchor="end">5</text>
<line x1="57.70" y1="1261.92" x2="62.00" y2="1261.92" stroke="#000" stroke-width="1.3"/>
<text x="53.70" y="1267.87" font-size="16.6" font-weight="bold" text-anchor="end">6</text>
<line x1="62.00" y1="1525.20" x2="62.00" y2="1529.40" stroke="#000" stroke-width="1.3"/>
<text x="62.00" y="1545.10" font-size="16.6" font-weight="bold" text-anchor="middle">0</text>
<line x1="114.19" y1="1525.20" x2="114.19" y2="1529.40" stroke="#000" stroke-width="1.3"/>
<text x="114.19" y="1545.10" font-size="16.6" font-weight="bold" text-anchor="middle">12</text>
<line x1="166.38" y1="1525.20" x2="166.38" y2="1529.40" stroke="#000" stroke-width="1.3"/>
<text x="166.38" y="1545.10" font-size="16.6" font-weight="bold" text-anchor="middle">24</text>
<line x1="218.56" y1="1525.20" x2="218.56" y2="1529.40" stroke="#000" stroke-width="1.3"/>
<text x="218.56" y="1545.10" font-size="16.6" font-weight="bold" text-anchor="middle">36</text>
<line x1="270.75" y1="1525.20" x2="270.75" y2="1529.40" stroke="#000" stroke-width="1.3"/>
<text x="270.75" y="1545.10" font-size="16.6" font-weight="bold" text-anchor="middle">48</text>
<line x1="322.94" y1="1525.20" x2="322.94" y2="1529.40" stroke="#000" stroke-width="1.3"/>
<text x="322.94" y="1545.10" font-size="16.6" font-weight="bold" text-anchor="middle">60</text>
<line x1="375.13" y1="1525.20" x2="375.13" y2="1529.40" stroke="#000" stroke-width="1.3"/>
<text x="375.13" y="1545.10" font-size="16.6" font-weight="bold" text-anchor="middle">72</text>
<text x="235.85" y="1566.9" font-size="16.6" font-weight="bold" text-anchor="middle">Time (h)</text>
<text transform="translate(38,1388.4) rotate(-90)" x="0" y="0" font-size="16.75" font-weight="bold" text-anchor="middle">Weight loss (%)</text>
<path d="M62.00,1525.20 L79.40,1493.61 L94.62,1434.81 L140.28,1339.59 L153.33,1329.06 L175.07,1319.84 L209.87,1312.82 L244.66,1311.07 L281.62,1309.31 L373.39,1305.80" fill="none" stroke="#000" stroke-width="1.2" stroke-linejoin="round"/>
<path d="M62.00,1525.20 L79.40,1515.55 L94.62,1490.10 L140.28,1361.97 L153.33,1348.80 L175.07,1329.93 L209.87,1313.70 L244.66,1305.80 L281.62,1301.41 L373.39,1294.83" fill="none" stroke="#000" stroke-width="1.2" stroke-linejoin="round"/>
<path d="M62.00,1525.20 L79.40,1519.93 L94.62,1505.45 L140.28,1398.83 L153.33,1367.23 L175.07,1343.10 L209.87,1316.77 L244.66,1303.61 L281.62,1298.34 L373.39,1289.13" fill="none" stroke="#000" stroke-width="1.2" stroke-linejoin="round"/>
<rect x="58.02" y="1521.22" width="7.97" height="7.97" fill="#fff" stroke="#111" stroke-width="1.15"/>
<rect x="75.41" y="1515.95" width="7.97" height="7.97" fill="#fff" stroke="#111" stroke-width="1.15"/>
<rect x="90.63" y="1501.47" width="7.97" height="7.97" fill="#fff" stroke="#111" stroke-width="1.15"/>
<rect x="136.30" y="1394.84" width="7.97" height="7.97" fill="#fff" stroke="#111" stroke-width="1.15"/>
<rect x="149.34" y="1363.25" width="7.97" height="7.97" fill="#fff" stroke="#111" stroke-width="1.15"/>
<rect x="171.09" y="1339.11" width="7.97" height="7.97" fill="#fff" stroke="#111" stroke-width="1.15"/>
<rect x="205.88" y="1312.79" width="7.97" height="7.97" fill="#fff" stroke="#111" stroke-width="1.15"/>
<rect x="240.67" y="1299.62" width="7.97" height="7.97" fill="#fff" stroke="#111" stroke-width="1.15"/>
<rect x="277.64" y="1294.36" width="7.97" height="7.97" fill="#fff" stroke="#111" stroke-width="1.15"/>
<rect x="369.40" y="1285.14" width="7.97" height="7.97" fill="#fff" stroke="#111" stroke-width="1.15"/>
<circle cx="62.00" cy="1525.20" r="3.98" fill="#fff" stroke="#111" stroke-width="1.15"/>
<circle cx="79.40" cy="1515.55" r="3.98" fill="#fff" stroke="#111" stroke-width="1.15"/>
<circle cx="94.62" cy="1490.10" r="3.98" fill="#fff" stroke="#111" stroke-width="1.15"/>
<circle cx="140.28" cy="1361.97" r="3.98" fill="#fff" stroke="#111" stroke-width="1.15"/>
<circle cx="153.33" cy="1348.80" r="3.98" fill="#fff" stroke="#111" stroke-width="1.15"/>
<circle cx="175.07" cy="1329.93" r="3.98" fill="#fff" stroke="#111" stroke-width="1.15"/>
<circle cx="209.87" cy="1313.70" r="3.98" fill="#fff" stroke="#111" stroke-width="1.15"/>
<circle cx="244.66" cy="1305.80" r="3.98" fill="#fff" stroke="#111" stroke-width="1.15"/>
<circle cx="281.62" cy="1301.41" r="3.98" fill="#fff" stroke="#111" stroke-width="1.15"/>
<circle cx="373.39" cy="1294.83" r="3.98" fill="#fff" stroke="#111" stroke-width="1.15"/>
<circle cx="62.00" cy="1525.20" r="4.00" fill="#000"/>
<circle cx="79.40" cy="1493.61" r="4.00" fill="#000"/>
<circle cx="94.62" cy="1434.81" r="4.00" fill="#000"/>
<circle cx="140.28" cy="1339.59" r="4.00" fill="#000"/>
<circle cx="153.33" cy="1329.06" r="4.00" fill="#000"/>
<circle cx="175.07" cy="1319.84" r="4.00" fill="#000"/>
<circle cx="209.87" cy="1312.82" r="4.00" fill="#000"/>
<circle cx="244.66" cy="1311.07" r="4.00" fill="#000"/>
<circle cx="281.62" cy="1309.31" r="4.00" fill="#000"/>
<circle cx="373.39" cy="1305.80" r="4.00" fill="#000"/>
<text x="445.17" y="1244.18" font-size="38" font-weight="bold" fill="#000">b</text>
<text x="614.48" y="1248.07" font-size="17.5" font-weight="bold" fill="#222" style="stroke:#222">BH 18</text>
<rect x="479.8" y="1262.8" width="338.90000000000003" height="259.60000000000014" fill="none" stroke="#000" stroke-width="1.3"/>
<line x1="475.50" y1="1522.40" x2="479.80" y2="1522.40" stroke="#000" stroke-width="1.3"/>
<text x="471.50" y="1528.35" font-size="16.6" font-weight="bold" text-anchor="end">0</text>
<line x1="475.50" y1="1479.13" x2="479.80" y2="1479.13" stroke="#000" stroke-width="1.3"/>
<text x="471.50" y="1485.08" font-size="16.6" font-weight="bold" text-anchor="end">1</text>
<line x1="475.50" y1="1435.86" x2="479.80" y2="1435.86" stroke="#000" stroke-width="1.3"/>
<text x="471.50" y="1441.81" font-size="16.6" font-weight="bold" text-anchor="end">2</text>
<line x1="475.50" y1="1392.59" x2="479.80" y2="1392.59" stroke="#000" stroke-width="1.3"/>
<text x="471.50" y="1398.54" font-size="16.6" font-weight="bold" text-anchor="end">3</text>
<line x1="475.50" y1="1349.32" x2="479.80" y2="1349.32" stroke="#000" stroke-width="1.3"/>
<text x="471.50" y="1355.27" font-size="16.6" font-weight="bold" text-anchor="end">4</text>
<line x1="475.50" y1="1306.05" x2="479.80" y2="1306.05" stroke="#000" stroke-width="1.3"/>
<text x="471.50" y="1312.00" font-size="16.6" font-weight="bold" text-anchor="end">5</text>
<line x1="475.50" y1="1262.78" x2="479.80" y2="1262.78" stroke="#000" stroke-width="1.3"/>
<text x="471.50" y="1268.73" font-size="16.6" font-weight="bold" text-anchor="end">6</text>
<line x1="479.80" y1="1522.40" x2="479.80" y2="1526.60" stroke="#000" stroke-width="1.3"/>
<text x="479.80" y="1542.30" font-size="16.6" font-weight="bold" text-anchor="middle">0</text>
<line x1="530.63" y1="1522.40" x2="530.63" y2="1526.60" stroke="#000" stroke-width="1.3"/>
<text x="530.63" y="1542.30" font-size="16.6" font-weight="bold" text-anchor="middle">12</text>
<line x1="581.46" y1="1522.40" x2="581.46" y2="1526.60" stroke="#000" stroke-width="1.3"/>
<text x="581.46" y="1542.30" font-size="16.6" font-weight="bold" text-anchor="middle">24</text>
<line x1="632.30" y1="1522.40" x2="632.30" y2="1526.60" stroke="#000" stroke-width="1.3"/>
<text x="632.30" y="1542.30" font-size="16.6" font-weight="bold" text-anchor="middle">36</text>
<line x1="683.13" y1="1522.40" x2="683.13" y2="1526.60" stroke="#000" stroke-width="1.3"/>
<text x="683.13" y="1542.30" font-size="16.6" font-weight="bold" text-anchor="middle">48</text>
<line x1="733.96" y1="1522.40" x2="733.96" y2="1526.60" stroke="#000" stroke-width="1.3"/>
<text x="733.96" y="1542.30" font-size="16.6" font-weight="bold" text-anchor="middle">60</text>
<line x1="784.79" y1="1522.40" x2="784.79" y2="1526.60" stroke="#000" stroke-width="1.3"/>
<text x="784.79" y="1542.30" font-size="16.6" font-weight="bold" text-anchor="middle">72</text>
<text x="649.25" y="1564.4" font-size="16.6" font-weight="bold" text-anchor="middle">Time (h)</text>
<text transform="translate(454.5,1386.7) rotate(-90)" x="0" y="0" font-size="16.75" font-weight="bold" text-anchor="middle">Weight loss (%)</text>
<path d="M479.80,1522.40 L505.22,1461.82 L522.16,1397.78 L547.58,1358.84 L581.46,1328.55 L632.30,1305.18 L683.13,1299.56 L733.96,1292.20 L784.79,1290.91" fill="none" stroke="#000" stroke-width="1.2" stroke-linejoin="round"/>
<path d="M479.80,1522.40 L505.22,1467.01 L522.16,1394.75 L547.58,1342.83 L581.46,1319.03 L632.30,1303.89 L683.13,1299.56 L733.96,1293.07 L784.79,1293.07" fill="none" stroke="#000" stroke-width="1.2" stroke-linejoin="round"/>
<path d="M479.80,1522.40 L505.22,1463.99 L522.16,1396.92 L547.58,1342.83 L581.46,1319.90 L632.30,1303.89 L683.13,1297.40 L733.96,1290.91 L784.79,1288.74" fill="none" stroke="#000" stroke-width="1.2" stroke-linejoin="round"/>
<path d="M479.80,1522.40 L505.22,1466.15 L522.16,1396.05 L547.58,1342.83 L581.46,1319.03 L632.30,1303.89 L683.13,1298.26 L733.96,1290.91 L784.79,1289.61" fill="none" stroke="#000" stroke-width="1.2" stroke-linejoin="round"/>
<path d="M479.80,1522.40 L505.22,1489.95 L522.16,1433.70 L547.58,1363.17 L581.46,1335.47 L632.30,1318.17 L683.13,1313.41 L733.96,1307.78 L784.79,1306.05" fill="none" stroke="#000" stroke-width="1.2" stroke-linejoin="round"/>
<path d="M479.80,1522.40 L505.22,1486.92 L522.16,1428.07 L547.58,1357.97 L581.46,1329.85 L632.30,1307.35 L683.13,1302.59 L733.96,1295.23 L784.79,1293.07" fill="none" stroke="#000" stroke-width="1.2" stroke-linejoin="round"/>
<rect x="475.81" y="1518.42" width="7.97" height="7.97" fill="#fff" stroke="#111" stroke-width="1.15"/>
<rect x="501.23" y="1482.93" width="7.97" height="7.97" fill="#fff" stroke="#111" stroke-width="1.15"/>
<rect x="518.17" y="1424.09" width="7.97" height="7.97" fill="#fff" stroke="#111" stroke-width="1.15"/>
<rect x="543.59" y="1353.99" width="7.97" height="7.97" fill="#fff" stroke="#111" stroke-width="1.15"/>
<rect x="577.48" y="1325.86" width="7.97" height="7.97" fill="#fff" stroke="#111" stroke-width="1.15"/>
<rect x="628.31" y="1303.36" width="7.97" height="7.97" fill="#fff" stroke="#111" stroke-width="1.15"/>
<rect x="679.14" y="1298.60" width="7.97" height="7.97" fill="#fff" stroke="#111" stroke-width="1.15"/>
<rect x="729.98" y="1291.25" width="7.97" height="7.97" fill="#fff" stroke="#111" stroke-width="1.15"/>
<rect x="780.81" y="1289.08" width="7.97" height="7.97" fill="#fff" stroke="#111" stroke-width="1.15"/>
<circle cx="479.80" cy="1522.40" r="3.98" fill="#fff" stroke="#111" stroke-width="1.15"/>
<circle cx="505.22" cy="1489.95" r="3.98" fill="#fff" stroke="#111" stroke-width="1.15"/>
<circle cx="522.16" cy="1433.70" r="3.98" fill="#fff" stroke="#111" stroke-width="1.15"/>
<circle cx="547.58" cy="1363.17" r="3.98" fill="#fff" stroke="#111" stroke-width="1.15"/>
<circle cx="581.46" cy="1335.47" r="3.98" fill="#fff" stroke="#111" stroke-width="1.15"/>
<circle cx="632.30" cy="1318.17" r="3.98" fill="#fff" stroke="#111" stroke-width="1.15"/>
<circle cx="683.13" cy="1313.41" r="3.98" fill="#fff" stroke="#111" stroke-width="1.15"/>
<circle cx="733.96" cy="1307.78" r="3.98" fill="#fff" stroke="#111" stroke-width="1.15"/>
<circle cx="784.79" cy="1306.05" r="3.98" fill="#fff" stroke="#111" stroke-width="1.15"/>
<path d="M479.80,1526.58 L484.00,1518.98 L475.60,1518.98 Z" fill="#000"/>
<path d="M505.22,1470.33 L509.42,1462.73 L501.02,1462.73 Z" fill="#000"/>
<path d="M522.16,1400.23 L526.36,1392.63 L517.96,1392.63 Z" fill="#000"/>
<path d="M547.58,1347.01 L551.78,1339.41 L543.38,1339.41 Z" fill="#000"/>
<path d="M581.46,1323.21 L585.66,1315.61 L577.26,1315.61 Z" fill="#000"/>
<path d="M632.30,1308.07 L636.50,1300.47 L628.10,1300.47 Z" fill="#000"/>
<path d="M683.13,1302.44 L687.33,1294.84 L678.93,1294.84 Z" fill="#000"/>
<path d="M733.96,1295.09 L738.16,1287.49 L729.76,1287.49 Z" fill="#000"/>
<path d="M784.79,1293.79 L788.99,1286.19 L780.59,1286.19 Z" fill="#000"/>
<path d="M479.80,1518.22 L484.00,1525.82 L475.60,1525.82 Z" fill="#000"/>
<path d="M505.22,1459.81 L509.42,1467.41 L501.02,1467.41 Z" fill="#000"/>
<path d="M522.16,1392.74 L526.36,1400.34 L517.96,1400.34 Z" fill="#000"/>
<path d="M547.58,1338.65 L551.78,1346.25 L543.38,1346.25 Z" fill="#000"/>
<path d="M581.46,1315.72 L585.66,1323.32 L577.26,1323.32 Z" fill="#000"/>
<path d="M632.30,1299.71 L636.50,1307.31 L628.10,1307.31 Z" fill="#000"/>
<path d="M683.13,1293.22 L687.33,1300.82 L678.93,1300.82 Z" fill="#000"/>
<path d="M733.96,1286.73 L738.16,1294.33 L729.76,1294.33 Z" fill="#000"/>
<path d="M784.79,1284.56 L788.99,1292.16 L780.59,1292.16 Z" fill="#000"/>
<rect x="475.80" y="1518.40" width="8.00" height="8.00" fill="#000"/>
<rect x="501.22" y="1463.01" width="8.00" height="8.00" fill="#000"/>
<rect x="518.16" y="1390.75" width="8.00" height="8.00" fill="#000"/>
<rect x="543.58" y="1338.83" width="8.00" height="8.00" fill="#000"/>
<rect x="577.46" y="1315.03" width="8.00" height="8.00" fill="#000"/>
<rect x="628.30" y="1299.89" width="8.00" height="8.00" fill="#000"/>
<rect x="679.13" y="1295.56" width="8.00" height="8.00" fill="#000"/>
<rect x="729.96" y="1289.07" width="8.00" height="8.00" fill="#000"/>
<rect x="780.79" y="1289.07" width="8.00" height="8.00" fill="#000"/>
<circle cx="479.80" cy="1522.40" r="4.00" fill="#000"/>
<circle cx="505.22" cy="1461.82" r="4.00" fill="#000"/>
<circle cx="522.16" cy="1397.78" r="4.00" fill="#000"/>
<circle cx="547.58" cy="1358.84" r="4.00" fill="#000"/>
<circle cx="581.46" cy="1328.55" r="4.00" fill="#000"/>
<circle cx="632.30" cy="1305.18" r="4.00" fill="#000"/>
<circle cx="683.13" cy="1299.56" r="4.00" fill="#000"/>
<circle cx="733.96" cy="1292.20" r="4.00" fill="#000"/>
<circle cx="784.79" cy="1290.91" r="4.00" fill="#000"/>
<text x="19.85" y="1606.19" font-size="38" font-weight="bold" fill="#000">c</text>
<text x="201.93" y="1605.71" font-size="17.5" font-weight="bold" fill="#222" style="stroke:#222">CCH 31A</text>
<rect x="63.5" y="1618" width="346.3" height="265.20000000000005" fill="none" stroke="#000" stroke-width="1.3"/>
<line x1="59.20" y1="1883.20" x2="63.50" y2="1883.20" stroke="#000" stroke-width="1.3"/>
<text x="55.20" y="1889.15" font-size="16.6" font-weight="bold" text-anchor="end">0</text>
<line x1="59.20" y1="1842.38" x2="63.50" y2="1842.38" stroke="#000" stroke-width="1.3"/>
<text x="55.20" y="1848.33" font-size="16.6" font-weight="bold" text-anchor="end">1</text>
<line x1="59.20" y1="1801.56" x2="63.50" y2="1801.56" stroke="#000" stroke-width="1.3"/>
<text x="55.20" y="1807.51" font-size="16.6" font-weight="bold" text-anchor="end">2</text>
<line x1="59.20" y1="1760.74" x2="63.50" y2="1760.74" stroke="#000" stroke-width="1.3"/>
<text x="55.20" y="1766.69" font-size="16.6" font-weight="bold" text-anchor="end">3</text>
<line x1="59.20" y1="1719.92" x2="63.50" y2="1719.92" stroke="#000" stroke-width="1.3"/>
<text x="55.20" y="1725.87" font-size="16.6" font-weight="bold" text-anchor="end">4</text>
<line x1="59.20" y1="1679.10" x2="63.50" y2="1679.10" stroke="#000" stroke-width="1.3"/>
<text x="55.20" y="1685.05" font-size="16.6" font-weight="bold" text-anchor="end">5</text>
<line x1="59.20" y1="1638.28" x2="63.50" y2="1638.28" stroke="#000" stroke-width="1.3"/>
<text x="55.20" y="1644.23" font-size="16.6" font-weight="bold" text-anchor="end">6</text>
<line x1="63.50" y1="1883.20" x2="63.50" y2="1887.40" stroke="#000" stroke-width="1.3"/>
<text x="63.50" y="1903.10" font-size="16.6" font-weight="bold" text-anchor="middle">0</text>
<line x1="115.45" y1="1883.20" x2="115.45" y2="1887.40" stroke="#000" stroke-width="1.3"/>
<text x="115.45" y="1903.10" font-size="16.6" font-weight="bold" text-anchor="middle">12</text>
<line x1="167.40" y1="1883.20" x2="167.40" y2="1887.40" stroke="#000" stroke-width="1.3"/>
<text x="167.40" y="1903.10" font-size="16.6" font-weight="bold" text-anchor="middle">24</text>
<line x1="219.34" y1="1883.20" x2="219.34" y2="1887.40" stroke="#000" stroke-width="1.3"/>
<text x="219.34" y="1903.10" font-size="16.6" font-weight="bold" text-anchor="middle">36</text>
<line x1="271.29" y1="1883.20" x2="271.29" y2="1887.40" stroke="#000" stroke-width="1.3"/>
<text x="271.29" y="1903.10" font-size="16.6" font-weight="bold" text-anchor="middle">48</text>
<line x1="323.24" y1="1883.20" x2="323.24" y2="1887.40" stroke="#000" stroke-width="1.3"/>
<text x="323.24" y="1903.10" font-size="16.6" font-weight="bold" text-anchor="middle">60</text>
<line x1="375.19" y1="1883.20" x2="375.19" y2="1887.40" stroke="#000" stroke-width="1.3"/>
<text x="375.19" y="1903.10" font-size="16.6" font-weight="bold" text-anchor="middle">72</text>
<text x="236.55" y="1926.0" font-size="16.6" font-weight="bold" text-anchor="middle">Time (h)</text>
<text transform="translate(37.5,1744.9) rotate(-90)" x="0" y="0" font-size="16.75" font-weight="bold" text-anchor="middle">Weight loss (%)</text>
<path d="M63.50,1883.20 L85.14,1870.14 L106.79,1850.54 L128.44,1832.99 L145.75,1820.75 L163.07,1797.48 L202.03,1740.33 L251.81,1659.91 L275.62,1644.40 L342.72,1633.38 L375.19,1628.08" fill="none" stroke="#000" stroke-width="1.2" stroke-linejoin="round"/>
<path d="M63.50,1883.20 L85.14,1870.14 L106.79,1856.67 L128.44,1840.34 L145.75,1830.13 L163.07,1815.85 L202.03,1775.03 L251.81,1715.02 L275.62,1687.26 L342.72,1662.77 L375.19,1655.42" fill="none" stroke="#000" stroke-width="1.2" stroke-linejoin="round"/>
<path d="M63.50,1883.20 L85.14,1870.95 L106.79,1854.63 L128.44,1838.30 L145.75,1826.05 L163.07,1810.54 L202.03,1768.09 L251.81,1715.84 L275.62,1693.39 L342.72,1672.98 L375.19,1666.04" fill="none" stroke="#000" stroke-width="1.2" stroke-linejoin="round"/>
<path d="M63.50,1883.20 L85.14,1871.77 L106.79,1858.71 L128.44,1842.38 L145.75,1830.13 L163.07,1813.81 L202.03,1784.42 L251.81,1746.45 L275.62,1728.90 L342.72,1685.22 L375.19,1672.98" fill="none" stroke="#000" stroke-width="1.2" stroke-linejoin="round"/>
<path d="M63.50,1883.20 L85.14,1875.04 L106.79,1862.79 L128.44,1851.36 L145.75,1842.38 L163.07,1835.03 L202.03,1817.89 L251.81,1801.56 L275.62,1792.17 L342.72,1777.07 L375.19,1766.45" fill="none" stroke="#000" stroke-width="1.2" stroke-linejoin="round"/>
<path d="M63.50,1883.20 L85.14,1875.85 L106.79,1864.83 L128.44,1851.36 L145.75,1846.46 L163.07,1838.30 L202.03,1827.68 L251.81,1821.15 L275.62,1817.07 L342.72,1808.91 L375.19,1804.01" fill="none" stroke="#000" stroke-width="1.2" stroke-linejoin="round"/>
<rect x="59.52" y="1879.22" width="7.97" height="7.97" fill="#fff" stroke="#111" stroke-width="1.15"/>
<rect x="81.16" y="1871.87" width="7.97" height="7.97" fill="#fff" stroke="#111" stroke-width="1.15"/>
<rect x="102.80" y="1860.85" width="7.97" height="7.97" fill="#fff" stroke="#111" stroke-width="1.15"/>
<rect x="124.45" y="1847.38" width="7.97" height="7.97" fill="#fff" stroke="#111" stroke-width="1.15"/>
<rect x="141.77" y="1842.48" width="7.97" height="7.97" fill="#fff" stroke="#111" stroke-width="1.15"/>
<rect x="159.08" y="1834.31" width="7.97" height="7.97" fill="#fff" stroke="#111" stroke-width="1.15"/>
<rect x="198.04" y="1823.70" width="7.97" height="7.97" fill="#fff" stroke="#111" stroke-width="1.15"/>
<rect x="247.83" y="1817.17" width="7.97" height="7.97" fill="#fff" stroke="#111" stroke-width="1.15"/>
<rect x="271.64" y="1813.09" width="7.97" height="7.97" fill="#fff" stroke="#111" stroke-width="1.15"/>
<rect x="338.74" y="1804.92" width="7.97" height="7.97" fill="#fff" stroke="#111" stroke-width="1.15"/>
<rect x="371.20" y="1800.02" width="7.97" height="7.97" fill="#fff" stroke="#111" stroke-width="1.15"/>
<circle cx="63.50" cy="1883.20" r="3.98" fill="#fff" stroke="#111" stroke-width="1.15"/>
<circle cx="85.14" cy="1875.04" r="3.98" fill="#fff" stroke="#111" stroke-width="1.15"/>
<circle cx="106.79" cy="1862.79" r="3.98" fill="#fff" stroke="#111" stroke-width="1.15"/>
<circle cx="128.44" cy="1851.36" r="3.98" fill="#fff" stroke="#111" stroke-width="1.15"/>
<circle cx="145.75" cy="1842.38" r="3.98" fill="#fff" stroke="#111" stroke-width="1.15"/>
<circle cx="163.07" cy="1835.03" r="3.98" fill="#fff" stroke="#111" stroke-width="1.15"/>
<circle cx="202.03" cy="1817.89" r="3.98" fill="#fff" stroke="#111" stroke-width="1.15"/>
<circle cx="251.81" cy="1801.56" r="3.98" fill="#fff" stroke="#111" stroke-width="1.15"/>
<circle cx="275.62" cy="1792.17" r="3.98" fill="#fff" stroke="#111" stroke-width="1.15"/>
<circle cx="342.72" cy="1777.07" r="3.98" fill="#fff" stroke="#111" stroke-width="1.15"/>
<circle cx="375.19" cy="1766.45" r="3.98" fill="#fff" stroke="#111" stroke-width="1.15"/>
<path d="M63.50,1887.38 L67.70,1879.78 L59.30,1879.78 Z" fill="#000"/>
<path d="M85.14,1875.95 L89.34,1868.35 L80.94,1868.35 Z" fill="#000"/>
<path d="M106.79,1862.89 L110.99,1855.29 L102.59,1855.29 Z" fill="#000"/>
<path d="M128.44,1846.56 L132.63,1838.96 L124.23,1838.96 Z" fill="#000"/>
<path d="M145.75,1834.31 L149.95,1826.71 L141.55,1826.71 Z" fill="#000"/>
<path d="M163.07,1817.99 L167.27,1810.39 L158.87,1810.39 Z" fill="#000"/>
<path d="M202.03,1788.60 L206.23,1781.00 L197.83,1781.00 Z" fill="#000"/>
<path d="M251.81,1750.63 L256.01,1743.03 L247.61,1743.03 Z" fill="#000"/>
<path d="M275.62,1733.08 L279.82,1725.48 L271.42,1725.48 Z" fill="#000"/>
<path d="M342.72,1689.40 L346.92,1681.80 L338.52,1681.80 Z" fill="#000"/>
<path d="M375.19,1677.16 L379.39,1669.56 L370.99,1669.56 Z" fill="#000"/>
<path d="M63.50,1879.02 L67.70,1886.62 L59.30,1886.62 Z" fill="#000"/>
<path d="M85.14,1866.77 L89.34,1874.37 L80.94,1874.37 Z" fill="#000"/>
<path d="M106.79,1850.45 L110.99,1858.05 L102.59,1858.05 Z" fill="#000"/>
<path d="M128.44,1834.12 L132.63,1841.72 L124.23,1841.72 Z" fill="#000"/>
<path d="M145.75,1821.87 L149.95,1829.47 L141.55,1829.47 Z" fill="#000"/>
<path d="M163.07,1806.36 L167.27,1813.96 L158.87,1813.96 Z" fill="#000"/>
<path d="M202.03,1763.91 L206.23,1771.51 L197.83,1771.51 Z" fill="#000"/>
<path d="M251.81,1711.66 L256.01,1719.26 L247.61,1719.26 Z" fill="#000"/>
<path d="M275.62,1689.21 L279.82,1696.81 L271.42,1696.81 Z" fill="#000"/>
<path d="M342.72,1668.80 L346.92,1676.40 L338.52,1676.40 Z" fill="#000"/>
<path d="M375.19,1661.86 L379.39,1669.46 L370.99,1669.46 Z" fill="#000"/>
<rect x="59.50" y="1879.20" width="8.00" height="8.00" fill="#000"/>
<rect x="81.14" y="1866.14" width="8.00" height="8.00" fill="#000"/>
<rect x="102.79" y="1852.67" width="8.00" height="8.00" fill="#000"/>
<rect x="124.44" y="1836.34" width="8.00" height="8.00" fill="#000"/>
<rect x="141.75" y="1826.13" width="8.00" height="8.00" fill="#000"/>
<rect x="159.07" y="1811.85" width="8.00" height="8.00" fill="#000"/>
<rect x="198.03" y="1771.03" width="8.00" height="8.00" fill="#000"/>
<rect x="247.81" y="1711.02" width="8.00" height="8.00" fill="#000"/>
<rect x="271.62" y="1683.26" width="8.00" height="8.00" fill="#000"/>
<rect x="338.72" y="1658.77" width="8.00" height="8.00" fill="#000"/>
<rect x="371.19" y="1651.42" width="8.00" height="8.00" fill="#000"/>
<circle cx="63.50" cy="1883.20" r="4.00" fill="#000"/>
<circle cx="85.14" cy="1870.14" r="4.00" fill="#000"/>
<circle cx="106.79" cy="1850.54" r="4.00" fill="#000"/>
<circle cx="128.44" cy="1832.99" r="4.00" fill="#000"/>
<circle cx="145.75" cy="1820.75" r="4.00" fill="#000"/>
<circle cx="163.07" cy="1797.48" r="4.00" fill="#000"/>
<circle cx="202.03" cy="1740.33" r="4.00" fill="#000"/>
<circle cx="251.81" cy="1659.91" r="4.00" fill="#000"/>
<circle cx="275.62" cy="1644.40" r="4.00" fill="#000"/>
<circle cx="342.72" cy="1633.38" r="4.00" fill="#000"/>
<circle cx="375.19" cy="1628.08" r="4.00" fill="#000"/>
<text x="438.02" y="1600.98" font-size="38" font-weight="bold" fill="#000">d</text>
<text x="618.62" y="1609.87" font-size="17.5" font-weight="bold" fill="#222" style="stroke:#222">CCH 22</text>
<rect x="479.8" y="1620.7" width="340.2" height="261.0" fill="none" stroke="#000" stroke-width="1.3"/>
<line x1="475.50" y1="1881.70" x2="479.80" y2="1881.70" stroke="#000" stroke-width="1.3"/>
<text x="471.50" y="1887.65" font-size="16.6" font-weight="bold" text-anchor="end">0</text>
<line x1="475.50" y1="1829.50" x2="479.80" y2="1829.50" stroke="#000" stroke-width="1.3"/>
<text x="471.50" y="1835.45" font-size="16.6" font-weight="bold" text-anchor="end">1</text>
<line x1="475.50" y1="1777.30" x2="479.80" y2="1777.30" stroke="#000" stroke-width="1.3"/>
<text x="471.50" y="1783.25" font-size="16.6" font-weight="bold" text-anchor="end">2</text>
<line x1="475.50" y1="1725.10" x2="479.80" y2="1725.10" stroke="#000" stroke-width="1.3"/>
<text x="471.50" y="1731.05" font-size="16.6" font-weight="bold" text-anchor="end">3</text>
<line x1="475.50" y1="1672.90" x2="479.80" y2="1672.90" stroke="#000" stroke-width="1.3"/>
<text x="471.50" y="1678.85" font-size="16.6" font-weight="bold" text-anchor="end">4</text>
<line x1="475.50" y1="1620.70" x2="479.80" y2="1620.70" stroke="#000" stroke-width="1.3"/>
<text x="471.50" y="1626.65" font-size="16.6" font-weight="bold" text-anchor="end">5</text>
<line x1="479.80" y1="1881.70" x2="479.80" y2="1885.90" stroke="#000" stroke-width="1.3"/>
<text x="479.80" y="1901.60" font-size="16.6" font-weight="bold" text-anchor="middle">0</text>
<line x1="520.64" y1="1881.70" x2="520.64" y2="1885.90" stroke="#000" stroke-width="1.3"/>
<text x="520.64" y="1901.60" font-size="16.6" font-weight="bold" text-anchor="middle">12</text>
<line x1="561.47" y1="1881.70" x2="561.47" y2="1885.90" stroke="#000" stroke-width="1.3"/>
<text x="561.47" y="1901.60" font-size="16.6" font-weight="bold" text-anchor="middle">24</text>
<line x1="602.31" y1="1881.70" x2="602.31" y2="1885.90" stroke="#000" stroke-width="1.3"/>
<text x="602.31" y="1901.60" font-size="16.6" font-weight="bold" text-anchor="middle">36</text>
<line x1="643.14" y1="1881.70" x2="643.14" y2="1885.90" stroke="#000" stroke-width="1.3"/>
<text x="643.14" y="1901.60" font-size="16.6" font-weight="bold" text-anchor="middle">48</text>
<line x1="683.98" y1="1881.70" x2="683.98" y2="1885.90" stroke="#000" stroke-width="1.3"/>
<text x="683.98" y="1901.60" font-size="16.6" font-weight="bold" text-anchor="middle">60</text>
<line x1="724.82" y1="1881.70" x2="724.82" y2="1885.90" stroke="#000" stroke-width="1.3"/>
<text x="724.82" y="1901.60" font-size="16.6" font-weight="bold" text-anchor="middle">72</text>
<line x1="765.65" y1="1881.70" x2="765.65" y2="1885.90" stroke="#000" stroke-width="1.3"/>
<text x="765.65" y="1901.60" font-size="16.6" font-weight="bold" text-anchor="middle">84</text>
<line x1="806.49" y1="1881.70" x2="806.49" y2="1885.90" stroke="#000" stroke-width="1.3"/>
<text x="806.49" y="1901.60" font-size="16.6" font-weight="bold" text-anchor="middle">96</text>
<text x="650.1" y="1924.7" font-size="16.6" font-weight="bold" text-anchor="middle">Time (h)</text>
<text transform="translate(457.7,1745.7) rotate(-90)" x="0" y="0" font-size="16.75" font-weight="bold" text-anchor="middle">Weight loss (%)</text>
<path d="M479.80,1881.70 L500.22,1867.08 L513.83,1851.42 L534.25,1823.24 L561.47,1778.34 L602.31,1710.48 L643.14,1684.38 L683.98,1659.85 L724.82,1650.45 L765.65,1641.58" fill="none" stroke="#000" stroke-width="1.2" stroke-linejoin="round"/>
<path d="M479.80,1881.70 L500.22,1868.13 L513.83,1852.47 L534.25,1824.28 L561.47,1778.87 L602.31,1711.53 L643.14,1684.91 L683.98,1660.37 L724.82,1652.02 L765.65,1642.62" fill="none" stroke="#000" stroke-width="1.2" stroke-linejoin="round"/>
<path d="M479.80,1881.70 L500.22,1867.61 L513.83,1850.38 L534.25,1822.19 L561.47,1777.30 L602.31,1708.40 L643.14,1683.34 L683.98,1659.85 L724.82,1650.98 L765.65,1638.97" fill="none" stroke="#000" stroke-width="1.2" stroke-linejoin="round"/>
<path d="M479.80,1881.70 L500.22,1868.65 L513.83,1851.95 L534.25,1823.24 L561.47,1779.39 L602.31,1709.44 L643.14,1684.91 L683.98,1660.89 L724.82,1653.06 L765.65,1640.54" fill="none" stroke="#000" stroke-width="1.2" stroke-linejoin="round"/>
<path d="M479.80,1881.70 L500.22,1871.26 L513.83,1856.64 L534.25,1842.55 L561.47,1824.28 L602.31,1735.54 L643.14,1709.44 L683.98,1683.34 L724.82,1672.90 L765.65,1657.24" fill="none" stroke="#000" stroke-width="1.2" stroke-linejoin="round"/>
<path d="M479.80,1881.70 L500.22,1875.44 L513.83,1860.82 L534.25,1846.20 L561.47,1826.89 L602.31,1738.15 L643.14,1712.05 L683.98,1685.95 L724.82,1678.12 L765.65,1667.68" fill="none" stroke="#000" stroke-width="1.2" stroke-linejoin="round"/>
<rect x="475.81" y="1877.72" width="7.97" height="7.97" fill="#fff" stroke="#111" stroke-width="1.15"/>
<rect x="496.23" y="1871.45" width="7.97" height="7.97" fill="#fff" stroke="#111" stroke-width="1.15"/>
<rect x="509.85" y="1856.84" width="7.97" height="7.97" fill="#fff" stroke="#111" stroke-width="1.15"/>
<rect x="530.26" y="1842.22" width="7.97" height="7.97" fill="#fff" stroke="#111" stroke-width="1.15"/>
<rect x="557.49" y="1822.91" width="7.97" height="7.97" fill="#fff" stroke="#111" stroke-width="1.15"/>
<rect x="598.32" y="1734.17" width="7.97" height="7.97" fill="#fff" stroke="#111" stroke-width="1.15"/>
<rect x="639.16" y="1708.07" width="7.97" height="7.97" fill="#fff" stroke="#111" stroke-width="1.15"/>
<rect x="680.00" y="1681.97" width="7.97" height="7.97" fill="#fff" stroke="#111" stroke-width="1.15"/>
<rect x="720.83" y="1674.14" width="7.97" height="7.97" fill="#fff" stroke="#111" stroke-width="1.15"/>
<rect x="761.67" y="1663.70" width="7.97" height="7.97" fill="#fff" stroke="#111" stroke-width="1.15"/>
<circle cx="479.80" cy="1881.70" r="3.98" fill="#fff" stroke="#111" stroke-width="1.15"/>
<circle cx="500.22" cy="1871.26" r="3.98" fill="#fff" stroke="#111" stroke-width="1.15"/>
<circle cx="513.83" cy="1856.64" r="3.98" fill="#fff" stroke="#111" stroke-width="1.15"/>
<circle cx="534.25" cy="1842.55" r="3.98" fill="#fff" stroke="#111" stroke-width="1.15"/>
<circle cx="561.47" cy="1824.28" r="3.98" fill="#fff" stroke="#111" stroke-width="1.15"/>
<circle cx="602.31" cy="1735.54" r="3.98" fill="#fff" stroke="#111" stroke-width="1.15"/>
<circle cx="643.14" cy="1709.44" r="3.98" fill="#fff" stroke="#111" stroke-width="1.15"/>
<circle cx="683.98" cy="1683.34" r="3.98" fill="#fff" stroke="#111" stroke-width="1.15"/>
<circle cx="724.82" cy="1672.90" r="3.98" fill="#fff" stroke="#111" stroke-width="1.15"/>
<circle cx="765.65" cy="1657.24" r="3.98" fill="#fff" stroke="#111" stroke-width="1.15"/>
<path d="M479.80,1885.88 L484.00,1878.28 L475.60,1878.28 Z" fill="#000"/>
<path d="M500.22,1872.83 L504.42,1865.23 L496.02,1865.23 Z" fill="#000"/>
<path d="M513.83,1856.13 L518.03,1848.53 L509.63,1848.53 Z" fill="#000"/>
<path d="M534.25,1827.42 L538.45,1819.82 L530.05,1819.82 Z" fill="#000"/>
<path d="M561.47,1783.57 L565.67,1775.97 L557.27,1775.97 Z" fill="#000"/>
<path d="M602.31,1713.62 L606.51,1706.02 L598.11,1706.02 Z" fill="#000"/>
<path d="M643.14,1689.09 L647.34,1681.49 L638.94,1681.49 Z" fill="#000"/>
<path d="M683.98,1665.07 L688.18,1657.47 L679.78,1657.47 Z" fill="#000"/>
<path d="M724.82,1657.24 L729.02,1649.64 L720.62,1649.64 Z" fill="#000"/>
<path d="M765.65,1644.72 L769.85,1637.12 L761.45,1637.12 Z" fill="#000"/>
<path d="M479.80,1877.52 L484.00,1885.12 L475.60,1885.12 Z" fill="#000"/>
<path d="M500.22,1863.43 L504.42,1871.03 L496.02,1871.03 Z" fill="#000"/>
<path d="M513.83,1846.20 L518.03,1853.80 L509.63,1853.80 Z" fill="#000"/>
<path d="M534.25,1818.01 L538.45,1825.61 L530.05,1825.61 Z" fill="#000"/>
<path d="M561.47,1773.12 L565.67,1780.72 L557.27,1780.72 Z" fill="#000"/>
<path d="M602.31,1704.22 L606.51,1711.82 L598.11,1711.82 Z" fill="#000"/>
<path d="M643.14,1679.16 L647.34,1686.76 L638.94,1686.76 Z" fill="#000"/>
<path d="M683.98,1655.67 L688.18,1663.27 L679.78,1663.27 Z" fill="#000"/>
<path d="M724.82,1646.80 L729.02,1654.40 L720.62,1654.40 Z" fill="#000"/>
<path d="M765.65,1634.79 L769.85,1642.39 L761.45,1642.39 Z" fill="#000"/>
<rect x="475.80" y="1877.70" width="8.00" height="8.00" fill="#000"/>
<rect x="496.22" y="1864.13" width="8.00" height="8.00" fill="#000"/>
<rect x="509.83" y="1848.47" width="8.00" height="8.00" fill="#000"/>
<rect x="530.25" y="1820.28" width="8.00" height="8.00" fill="#000"/>
<rect x="557.47" y="1774.87" width="8.00" height="8.00" fill="#000"/>
<rect x="598.31" y="1707.53" width="8.00" height="8.00" fill="#000"/>
<rect x="639.14" y="1680.91" width="8.00" height="8.00" fill="#000"/>
<rect x="679.98" y="1656.37" width="8.00" height="8.00" fill="#000"/>
<rect x="720.82" y="1648.02" width="8.00" height="8.00" fill="#000"/>
<rect x="761.65" y="1638.62" width="8.00" height="8.00" fill="#000"/>
<circle cx="479.80" cy="1881.70" r="4.00" fill="#000"/>
<circle cx="500.22" cy="1867.08" r="4.00" fill="#000"/>
<circle cx="513.83" cy="1851.42" r="4.00" fill="#000"/>
<circle cx="534.25" cy="1823.24" r="4.00" fill="#000"/>
<circle cx="561.47" cy="1778.34" r="4.00" fill="#000"/>
<circle cx="602.31" cy="1710.48" r="4.00" fill="#000"/>
<circle cx="643.14" cy="1684.38" r="4.00" fill="#000"/>
<circle cx="683.98" cy="1659.85" r="4.00" fill="#000"/>
<circle cx="724.82" cy="1650.45" r="4.00" fill="#000"/>
<circle cx="765.65" cy="1641.58" r="4.00" fill="#000"/>
<text x="13.39" y="1957.09" font-size="38" font-weight="bold" fill="#000">e</text>
<text x="218.77" y="1969.02" font-size="17.5" font-weight="bold" fill="#222" style="stroke:#222">SH1</text>
<rect x="65.6" y="1981.4" width="342.70000000000005" height="265.4000000000001" fill="none" stroke="#000" stroke-width="1.3"/>
<line x1="61.30" y1="2246.80" x2="65.60" y2="2246.80" stroke="#000" stroke-width="1.3"/>
<text x="54.60" y="2252.75" font-size="16.6" font-weight="bold" text-anchor="end">0.0</text>
<line x1="61.30" y1="2202.57" x2="65.60" y2="2202.57" stroke="#000" stroke-width="1.3"/>
<text x="54.60" y="2208.51" font-size="16.6" font-weight="bold" text-anchor="end">0.5</text>
<line x1="61.30" y1="2158.33" x2="65.60" y2="2158.33" stroke="#000" stroke-width="1.3"/>
<text x="54.60" y="2164.28" font-size="16.6" font-weight="bold" text-anchor="end">1.0</text>
<line x1="61.30" y1="2114.10" x2="65.60" y2="2114.10" stroke="#000" stroke-width="1.3"/>
<text x="54.60" y="2120.05" font-size="16.6" font-weight="bold" text-anchor="end">1.5</text>
<line x1="61.30" y1="2069.86" x2="65.60" y2="2069.86" stroke="#000" stroke-width="1.3"/>
<text x="54.60" y="2075.81" font-size="16.6" font-weight="bold" text-anchor="end">2.0</text>
<line x1="61.30" y1="2025.63" x2="65.60" y2="2025.63" stroke="#000" stroke-width="1.3"/>
<text x="54.60" y="2031.58" font-size="16.6" font-weight="bold" text-anchor="end">2.5</text>
<line x1="61.30" y1="1981.39" x2="65.60" y2="1981.39" stroke="#000" stroke-width="1.3"/>
<text x="54.60" y="1987.34" font-size="16.6" font-weight="bold" text-anchor="end">3.0</text>
<line x1="65.60" y1="2246.80" x2="65.60" y2="2251.00" stroke="#000" stroke-width="1.3"/>
<text x="65.60" y="2266.70" font-size="16.6" font-weight="bold" text-anchor="middle">0</text>
<line x1="117.02" y1="2246.80" x2="117.02" y2="2251.00" stroke="#000" stroke-width="1.3"/>
<text x="117.02" y="2266.70" font-size="16.6" font-weight="bold" text-anchor="middle">12</text>
<line x1="168.44" y1="2246.80" x2="168.44" y2="2251.00" stroke="#000" stroke-width="1.3"/>
<text x="168.44" y="2266.70" font-size="16.6" font-weight="bold" text-anchor="middle">24</text>
<line x1="219.86" y1="2246.80" x2="219.86" y2="2251.00" stroke="#000" stroke-width="1.3"/>
<text x="219.86" y="2266.70" font-size="16.6" font-weight="bold" text-anchor="middle">36</text>
<line x1="271.28" y1="2246.80" x2="271.28" y2="2251.00" stroke="#000" stroke-width="1.3"/>
<text x="271.28" y="2266.70" font-size="16.6" font-weight="bold" text-anchor="middle">48</text>
<line x1="322.70" y1="2246.80" x2="322.70" y2="2251.00" stroke="#000" stroke-width="1.3"/>
<text x="322.70" y="2266.70" font-size="16.6" font-weight="bold" text-anchor="middle">60</text>
<line x1="374.12" y1="2246.80" x2="374.12" y2="2251.00" stroke="#000" stroke-width="1.3"/>
<text x="374.12" y="2266.70" font-size="16.6" font-weight="bold" text-anchor="middle">72</text>
<text x="236.45" y="2289.5" font-size="16.6" font-weight="bold" text-anchor="middle">Time (h)</text>
<text transform="translate(21.9,2107.4) rotate(-90)" x="0" y="0" font-size="16.75" font-weight="bold" text-anchor="middle">Weight loss (%)</text>
<path d="M65.60,2246.80 L83.60,2237.95 L160.73,2228.22 L198.86,2195.49 L248.14,2131.79 L271.71,2087.55 L314.99,2025.63 L374.12,2010.59" fill="none" stroke="#000" stroke-width="1.2" stroke-linejoin="round"/>
<path d="M65.60,2246.80 L83.60,2237.95 L160.73,2226.45 L198.86,2204.33 L248.14,2158.33 L271.71,2127.37 L314.99,2096.40 L374.12,2092.86" fill="none" stroke="#000" stroke-width="1.2" stroke-linejoin="round"/>
<path d="M65.60,2246.80 L83.60,2238.84 L160.73,2229.11 L198.86,2217.60 L248.14,2177.79 L271.71,2145.94 L314.99,2117.63 L374.12,2107.02" fill="none" stroke="#000" stroke-width="1.2" stroke-linejoin="round"/>
<path d="M65.60,2246.80 L83.60,2239.72 L160.73,2230.88 L198.86,2206.99 L248.14,2186.64 L271.71,2153.91 L314.99,2126.48 L374.12,2115.86" fill="none" stroke="#000" stroke-width="1.2" stroke-linejoin="round"/>
<path d="M65.60,2246.80 L83.60,2242.38 L160.73,2233.53 L198.86,2229.99 L248.14,2213.18 L271.71,2198.14 L314.99,2165.41 L374.12,2158.33" fill="none" stroke="#000" stroke-width="1.2" stroke-linejoin="round"/>
<path d="M65.60,2246.80 L83.60,2244.15 L160.73,2238.84 L198.86,2229.11 L248.14,2215.84 L271.71,2204.33 L314.99,2184.87 L374.12,2176.02" fill="none" stroke="#000" stroke-width="1.2" stroke-linejoin="round"/>
<rect x="61.61" y="2242.82" width="7.97" height="7.97" fill="#fff" stroke="#111" stroke-width="1.15"/>
<rect x="79.61" y="2240.16" width="7.97" height="7.97" fill="#fff" stroke="#111" stroke-width="1.15"/>
<rect x="156.74" y="2234.85" width="7.97" height="7.97" fill="#fff" stroke="#111" stroke-width="1.15"/>
<rect x="194.88" y="2225.12" width="7.97" height="7.97" fill="#fff" stroke="#111" stroke-width="1.15"/>
<rect x="244.16" y="2211.85" width="7.97" height="7.97" fill="#fff" stroke="#111" stroke-width="1.15"/>
<rect x="267.72" y="2200.35" width="7.97" height="7.97" fill="#fff" stroke="#111" stroke-width="1.15"/>
<rect x="311.00" y="2180.89" width="7.97" height="7.97" fill="#fff" stroke="#111" stroke-width="1.15"/>
<rect x="370.13" y="2172.04" width="7.97" height="7.97" fill="#fff" stroke="#111" stroke-width="1.15"/>
<circle cx="65.60" cy="2246.80" r="3.98" fill="#fff" stroke="#111" stroke-width="1.15"/>
<circle cx="83.60" cy="2242.38" r="3.98" fill="#fff" stroke="#111" stroke-width="1.15"/>
<circle cx="160.73" cy="2233.53" r="3.98" fill="#fff" stroke="#111" stroke-width="1.15"/>
<circle cx="198.86" cy="2229.99" r="3.98" fill="#fff" stroke="#111" stroke-width="1.15"/>
<circle cx="248.14" cy="2213.18" r="3.98" fill="#fff" stroke="#111" stroke-width="1.15"/>
<circle cx="271.71" cy="2198.14" r="3.98" fill="#fff" stroke="#111" stroke-width="1.15"/>
<circle cx="314.99" cy="2165.41" r="3.98" fill="#fff" stroke="#111" stroke-width="1.15"/>
<circle cx="374.12" cy="2158.33" r="3.98" fill="#fff" stroke="#111" stroke-width="1.15"/>
<path d="M65.60,2250.98 L69.80,2243.38 L61.40,2243.38 Z" fill="#000"/>
<path d="M83.60,2243.90 L87.80,2236.30 L79.40,2236.30 Z" fill="#000"/>
<path d="M160.73,2235.06 L164.93,2227.46 L156.53,2227.46 Z" fill="#000"/>
<path d="M198.86,2211.17 L203.06,2203.57 L194.66,2203.57 Z" fill="#000"/>
<path d="M248.14,2190.82 L252.34,2183.22 L243.94,2183.22 Z" fill="#000"/>
<path d="M271.71,2158.09 L275.91,2150.49 L267.51,2150.49 Z" fill="#000"/>
<path d="M314.99,2130.66 L319.19,2123.06 L310.79,2123.06 Z" fill="#000"/>
<path d="M374.12,2120.04 L378.32,2112.44 L369.92,2112.44 Z" fill="#000"/>
<path d="M65.60,2242.62 L69.80,2250.22 L61.40,2250.22 Z" fill="#000"/>
<path d="M83.60,2234.66 L87.80,2242.26 L79.40,2242.26 Z" fill="#000"/>
<path d="M160.73,2224.93 L164.93,2232.53 L156.53,2232.53 Z" fill="#000"/>
<path d="M198.86,2213.42 L203.06,2221.02 L194.66,2221.02 Z" fill="#000"/>
<path d="M248.14,2173.61 L252.34,2181.21 L243.94,2181.21 Z" fill="#000"/>
<path d="M271.71,2141.76 L275.91,2149.36 L267.51,2149.36 Z" fill="#000"/>
<path d="M314.99,2113.45 L319.19,2121.05 L310.79,2121.05 Z" fill="#000"/>
<path d="M374.12,2102.84 L378.32,2110.44 L369.92,2110.44 Z" fill="#000"/>
<rect x="61.60" y="2242.80" width="8.00" height="8.00" fill="#000"/>
<rect x="79.60" y="2233.95" width="8.00" height="8.00" fill="#000"/>
<rect x="156.73" y="2222.45" width="8.00" height="8.00" fill="#000"/>
<rect x="194.86" y="2200.33" width="8.00" height="8.00" fill="#000"/>
<rect x="244.14" y="2154.33" width="8.00" height="8.00" fill="#000"/>
<rect x="267.71" y="2123.37" width="8.00" height="8.00" fill="#000"/>
<rect x="310.99" y="2092.40" width="8.00" height="8.00" fill="#000"/>
<rect x="370.12" y="2088.86" width="8.00" height="8.00" fill="#000"/>
<circle cx="65.60" cy="2246.80" r="4.00" fill="#000"/>
<circle cx="83.60" cy="2237.95" r="4.00" fill="#000"/>
<circle cx="160.73" cy="2228.22" r="4.00" fill="#000"/>
<circle cx="198.86" cy="2195.49" r="4.00" fill="#000"/>
<circle cx="248.14" cy="2131.79" r="4.00" fill="#000"/>
<circle cx="271.71" cy="2087.55" r="4.00" fill="#000"/>
<circle cx="314.99" cy="2025.63" r="4.00" fill="#000"/>
<circle cx="374.12" cy="2010.59" r="4.00" fill="#000"/>
<line x1="501.10" y1="833.40" x2="517.90" y2="833.40" stroke="#000" stroke-width="1.4"/>
<circle cx="509.50" cy="833.40" r="7.30" fill="#000"/>
<text x="526.3" y="844.20" font-size="30.5" fill="#000" stroke="#000" stroke-width="0.35">0.0 g/L</text>
<line x1="501.10" y1="872.90" x2="517.90" y2="872.90" stroke="#000" stroke-width="1.4"/>
<rect x="502.20" y="865.60" width="14.60" height="14.60" fill="#000"/>
<text x="526.3" y="883.70" font-size="30.5" fill="#000" stroke="#000" stroke-width="0.35">0.3 g/L</text>
<line x1="501.10" y1="915.10" x2="517.90" y2="915.10" stroke="#000" stroke-width="1.4"/>
<path d="M509.50,907.47 L517.16,921.34 L501.83,921.34 Z" fill="#000"/>
<text x="526.3" y="925.90" font-size="30.5" fill="#000" stroke="#000" stroke-width="0.35">0.6 g/L</text>
<line x1="501.10" y1="958.30" x2="517.90" y2="958.30" stroke="#000" stroke-width="1.4"/>
<path d="M509.50,965.93 L517.16,952.06 L501.83,952.06 Z" fill="#000"/>
<text x="526.3" y="969.10" font-size="30.5" fill="#000" stroke="#000" stroke-width="0.35">1.0 g/L</text>
<line x1="501.10" y1="1002.20" x2="517.90" y2="1002.20" stroke="#000" stroke-width="1.4"/>
<circle cx="509.50" cy="1002.20" r="7.23" fill="#fff" stroke="#111" stroke-width="1.3"/>
<text x="526.3" y="1013.00" font-size="30.5" fill="#000" stroke="#000" stroke-width="0.35">3.0 g/L</text>
<line x1="501.10" y1="1046.10" x2="517.90" y2="1046.10" stroke="#000" stroke-width="1.4"/>
<rect x="502.27" y="1038.87" width="14.47" height="14.47" fill="#fff" stroke="#111" stroke-width="1.3"/>
<text x="526.3" y="1056.90" font-size="30.5" fill="#000" stroke="#000" stroke-width="0.35">6.0 g/L</text>
<line x1="498.60" y1="2007.70" x2="516.60" y2="2007.70" stroke="#000" stroke-width="1.4"/>
<circle cx="507.60" cy="2007.70" r="7.30" fill="#000"/>
<text x="525.1" y="2018.50" font-size="30.5" fill="#000" stroke="#000" stroke-width="0.35">0.0 g/L</text>
<line x1="498.60" y1="2046.50" x2="516.60" y2="2046.50" stroke="#000" stroke-width="1.4"/>
<rect x="500.30" y="2039.20" width="14.60" height="14.60" fill="#000"/>
<text x="525.1" y="2057.30" font-size="30.5" fill="#000" stroke="#000" stroke-width="0.35">0.3 g/L</text>
<line x1="498.60" y1="2087.50" x2="516.60" y2="2087.50" stroke="#000" stroke-width="1.4"/>
<path d="M507.60,2079.87 L515.26,2093.74 L499.94,2093.74 Z" fill="#000"/>
<text x="525.1" y="2098.30" font-size="30.5" fill="#000" stroke="#000" stroke-width="0.35">0.6 g/L</text>
<line x1="498.60" y1="2130.80" x2="516.60" y2="2130.80" stroke="#000" stroke-width="1.4"/>
<path d="M507.60,2138.43 L515.26,2124.56 L499.94,2124.56 Z" fill="#000"/>
<text x="525.1" y="2141.60" font-size="30.5" fill="#000" stroke="#000" stroke-width="0.35">1.0 g/L</text>
<line x1="498.60" y1="2173.30" x2="516.60" y2="2173.30" stroke="#000" stroke-width="1.4"/>
<circle cx="507.60" cy="2173.30" r="7.23" fill="#fff" stroke="#111" stroke-width="1.3"/>
<text x="525.1" y="2184.10" font-size="30.5" fill="#000" stroke="#000" stroke-width="0.35">3.0 g/L</text>
<line x1="498.60" y1="2216.60" x2="516.60" y2="2216.60" stroke="#000" stroke-width="1.4"/>
<rect x="500.37" y="2209.37" width="14.47" height="14.47" fill="#fff" stroke="#111" stroke-width="1.3"/>
<text x="525.1" y="2227.40" font-size="30.5" fill="#000" stroke="#000" stroke-width="0.35">6.0 g/L</text>
</svg>
</body></html>
